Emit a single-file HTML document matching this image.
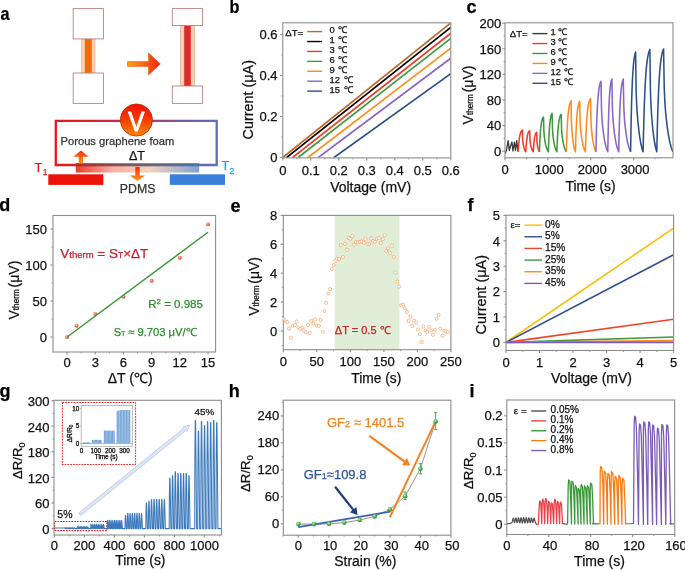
<!DOCTYPE html><html><head><meta charset="utf-8"><style>html,body{margin:0;padding:0;background:#fff;}svg{display:block;will-change:transform;}</style></head><body>
<svg width="685" height="570" viewBox="0 0 685 570" font-family='"Liberation Sans", sans-serif'>
<rect width="685" height="570" fill="#fff"/>
<defs>
<linearGradient id="arrG" x1="0" y1="0" x2="1" y2="0"><stop offset="0" stop-color="#ffa21a"/><stop offset="1" stop-color="#f0280a"/></linearGradient>
<linearGradient id="vG" x1="0" y1="0" x2="0" y2="1"><stop offset="0" stop-color="#f50f00"/><stop offset="0.5" stop-color="#f73c00"/><stop offset="1" stop-color="#ff8a00"/></linearGradient>
<linearGradient id="wireG" x1="0" y1="0" x2="1" y2="0"><stop offset="0" stop-color="#e81818"/><stop offset="0.4" stop-color="#c82840"/><stop offset="0.62" stop-color="#9a4878"/><stop offset="0.8" stop-color="#7a5a9e"/><stop offset="1" stop-color="#5a70bc"/></linearGradient>
<linearGradient id="barG" x1="0" y1="0" x2="1" y2="0"><stop offset="0" stop-color="#f03a2a"/><stop offset="0.3" stop-color="#f8b0a0"/><stop offset="0.6" stop-color="#f4d2c0"/><stop offset="1" stop-color="#7fa2d0"/></linearGradient>
<linearGradient id="barTop" x1="0" y1="0" x2="1" y2="0"><stop offset="0" stop-color="#9a2a2a"/><stop offset="0.5" stop-color="#5a4a5a"/><stop offset="1" stop-color="#4a6aa0"/></linearGradient>
<linearGradient id="upG" x1="0" y1="1" x2="0" y2="0"><stop offset="0" stop-color="#ff9a1a"/><stop offset="1" stop-color="#f02a0a"/></linearGradient>
<linearGradient id="dnG" x1="0" y1="0" x2="0" y2="1"><stop offset="0" stop-color="#f02a0a"/><stop offset="1" stop-color="#ff9a1a"/></linearGradient>
<radialGradient id="dotR" cx="0.4" cy="0.35" r="0.7"><stop offset="0" stop-color="#ffd0c0"/><stop offset="0.5" stop-color="#f86a50"/><stop offset="1" stop-color="#e83a28"/></radialGradient>
<radialGradient id="dotG" cx="0.4" cy="0.35" r="0.7"><stop offset="0" stop-color="#c8f0c0"/><stop offset="0.5" stop-color="#4cb04c"/><stop offset="1" stop-color="#2a8a2a"/></radialGradient>
</defs>
<text transform="translate(0.5,20.3) scale(0.9,1)" font-size="18" font-weight="bold" fill="#000" stroke="#000" stroke-width="0.25">a</text>
<text transform="translate(229.5,12.899999999999999) scale(0.9,1)" font-size="18" font-weight="bold" fill="#000" stroke="#000" stroke-width="0.25">b</text>
<text transform="translate(466.5,13.2) scale(1,1)" font-size="18" font-weight="bold" fill="#000" stroke="#000" stroke-width="0.25">c</text>
<text transform="translate(-0.8,211.1) scale(1,1)" font-size="18" font-weight="bold" fill="#000" stroke="#000" stroke-width="0.25">d</text>
<text transform="translate(230.5,211.89999999999998) scale(1,1)" font-size="18" font-weight="bold" fill="#000" stroke="#000" stroke-width="0.25">e</text>
<text transform="translate(467.5,211.1) scale(1,1)" font-size="18" font-weight="bold" fill="#000" stroke="#000" stroke-width="0.25">f</text>
<text transform="translate(-0.6,396.9) scale(1,1)" font-size="18" font-weight="bold" fill="#000" stroke="#000" stroke-width="0.25">g</text>
<text transform="translate(228.8,396.9) scale(1,1)" font-size="18" font-weight="bold" fill="#000" stroke="#000" stroke-width="0.25">h</text>
<text transform="translate(469.5,396.9) scale(1,1)" font-size="18" font-weight="bold" fill="#000" stroke="#000" stroke-width="0.25">i</text>
<rect x="81.5" y="38.9" width="13.5" height="34.1" fill="#fcd2b0" stroke="#d9a090" stroke-width="0.6"/>
<rect x="84.8" y="38.9" width="7.0" height="34.1" fill="#f06a0a"/>
<rect x="73.2" y="8.6" width="30.200000000000003" height="30.299999999999997" fill="#fff" stroke="#b88080" stroke-width="0.9"/>
<rect x="73.2" y="73.0" width="30.200000000000003" height="30.400000000000006" fill="#fff" stroke="#b88080" stroke-width="0.9"/>
<rect x="180.5" y="25.5" width="14.0" height="60.5" fill="#fcd2b0" stroke="#d9a090" stroke-width="0.6"/>
<rect x="184.2" y="25.5" width="6.600000000000023" height="60.5" fill="#e02a2a"/>
<rect x="172.3" y="8.6" width="30.299999999999983" height="16.9" fill="#fff" stroke="#b88080" stroke-width="0.9"/>
<rect x="172.3" y="86.0" width="30.299999999999983" height="17.400000000000006" fill="#fff" stroke="#b88080" stroke-width="0.9"/>
<path d="M127.5,61.6 L148.5,61.6 L148.5,52.8 L160.4,63.9 L148.5,75 L148.5,66.4 L127.5,66.4 Z" fill="url(#arrG)" stroke="#e8500a" stroke-width="0.5"/>
<path d="M76,165 L55.8,165 L55.8,120.8 L216.7,120.8 L216.7,165 L199,165" fill="none" stroke="url(#wireG)" stroke-width="2.3"/>
<rect x="75.8" y="163.3" width="123.4" height="9.2" fill="url(#barG)"/>
<rect x="75.8" y="163.3" width="123.4" height="3" fill="url(#barTop)" opacity="0.85"/>
<rect x="48.3" y="174.3" width="55" height="10.6" fill="#ec1208"/>
<rect x="169.8" y="174.3" width="55.2" height="10.6" fill="#3a7fd8"/>
<path d="M78.7,163.3 L78.7,156.7 L73.3,156.7 L81,150.4 L88.7,156.7 L83.1,156.7 L83.1,163.3 Z" fill="url(#upG)"/>
<path d="M135.3,167 L139.7,167 L139.7,175.5 L145,175.5 L137.5,181 L130,175.5 L135.3,175.5 Z" fill="url(#dnG)"/>
<circle cx="136.4" cy="120" r="16.1" fill="url(#vG)" stroke="#a83020" stroke-width="0.8"/>
<text transform="translate(136.3,130.9) scale(0.88,1)" font-size="27.5" text-anchor="middle" fill="#fff" stroke="#fff" stroke-width="1.0">V</text>
<text x="60.5" y="145.3" font-size="11.2" text-anchor="start" fill="#333" font-weight="normal"  stroke="#333" stroke-width="0.25">Porous graphene foam</text>
<text x="137" y="159.8" font-size="12.5" text-anchor="middle" fill="#111" font-weight="normal"  stroke="#111" stroke-width="0.25">ΔT</text>
<text x="137.6" y="192.7" font-size="12.3" text-anchor="middle" fill="#333" font-weight="normal"  stroke="#333" stroke-width="0.25">PDMS</text>
<text x="34.6" y="171.6" font-size="12.8" text-anchor="start" fill="#f01a1a" font-weight="normal"  stroke="#f01a1a" stroke-width="0.25">T</text>
<text x="42.8" y="174.5" font-size="8.5" text-anchor="start" fill="#f01a1a" font-weight="normal"  stroke="#f01a1a" stroke-width="0.25">1</text>
<text x="221.5" y="170.3" font-size="12.8" text-anchor="start" fill="#1aa8e8" font-weight="normal"  stroke="#1aa8e8" stroke-width="0.25">T</text>
<text x="229.5" y="173.5" font-size="8.5" text-anchor="start" fill="#1aa8e8" font-weight="normal"  stroke="#1aa8e8" stroke-width="0.25">2</text>
<clipPath id="cb"><rect x="282.8" y="22.8" width="168.0" height="135.1"/></clipPath>
<g clip-path="url(#cb)">
<line x1="282.8" y1="157.5" x2="450.8" y2="22.81" stroke="#bc6428" stroke-width="1.65" />
<line x1="286.72" y1="157.5" x2="450.8" y2="27.32" stroke="#000000" stroke-width="1.65" />
<line x1="292.6" y1="157.5" x2="450.8" y2="33.27" stroke="#f03c28" stroke-width="1.65" />
<line x1="298.2" y1="157.5" x2="450.8" y2="38.4" stroke="#3c9a3c" stroke-width="1.65" />
<line x1="308" y1="157.5" x2="450.8" y2="48.03" stroke="#ff8c1a" stroke-width="1.65" />
<line x1="318.36" y1="157.5" x2="450.8" y2="58.28" stroke="#8a64c8" stroke-width="1.65" />
<line x1="334.04" y1="157.5" x2="450.8" y2="73.66" stroke="#2a4f8c" stroke-width="1.65" />
</g>
<rect x="282.8" y="22.8" width="168" height="135.1" fill="none" stroke="#8c8c8c" stroke-width="1.1"/>
<line x1="282.8" y1="157.9" x2="282.8" y2="160.5" stroke="#8c8c8c" stroke-width="1.1" />
<line x1="310.8" y1="157.9" x2="310.8" y2="160.5" stroke="#8c8c8c" stroke-width="1.1" />
<line x1="338.8" y1="157.9" x2="338.8" y2="160.5" stroke="#8c8c8c" stroke-width="1.1" />
<line x1="366.8" y1="157.9" x2="366.8" y2="160.5" stroke="#8c8c8c" stroke-width="1.1" />
<line x1="394.8" y1="157.9" x2="394.8" y2="160.5" stroke="#8c8c8c" stroke-width="1.1" />
<line x1="422.8" y1="157.9" x2="422.8" y2="160.5" stroke="#8c8c8c" stroke-width="1.1" />
<line x1="450.8" y1="157.9" x2="450.8" y2="160.5" stroke="#8c8c8c" stroke-width="1.1" />
<line x1="296.8" y1="157.9" x2="296.8" y2="159.4" stroke="#8c8c8c" stroke-width="0.9" />
<line x1="324.8" y1="157.9" x2="324.8" y2="159.4" stroke="#8c8c8c" stroke-width="0.9" />
<line x1="352.8" y1="157.9" x2="352.8" y2="159.4" stroke="#8c8c8c" stroke-width="0.9" />
<line x1="380.8" y1="157.9" x2="380.8" y2="159.4" stroke="#8c8c8c" stroke-width="0.9" />
<line x1="408.8" y1="157.9" x2="408.8" y2="159.4" stroke="#8c8c8c" stroke-width="0.9" />
<line x1="436.8" y1="157.9" x2="436.8" y2="159.4" stroke="#8c8c8c" stroke-width="0.9" />
<line x1="280.2" y1="157.5" x2="282.8" y2="157.5" stroke="#8c8c8c" stroke-width="1.1" />
<line x1="280.2" y1="116.5" x2="282.8" y2="116.5" stroke="#8c8c8c" stroke-width="1.1" />
<line x1="280.2" y1="75.5" x2="282.8" y2="75.5" stroke="#8c8c8c" stroke-width="1.1" />
<line x1="280.2" y1="34.5" x2="282.8" y2="34.5" stroke="#8c8c8c" stroke-width="1.1" />
<line x1="281.3" y1="137" x2="282.8" y2="137" stroke="#8c8c8c" stroke-width="0.9" />
<line x1="281.3" y1="96" x2="282.8" y2="96" stroke="#8c8c8c" stroke-width="0.9" />
<line x1="281.3" y1="55" x2="282.8" y2="55" stroke="#8c8c8c" stroke-width="0.9" />
<text x="282.8" y="175.4" font-size="13" text-anchor="middle" fill="#111" font-weight="normal"  stroke="#111" stroke-width="0.25">0</text>
<text x="310.8" y="175.4" font-size="13" text-anchor="middle" fill="#111" font-weight="normal"  stroke="#111" stroke-width="0.25">0.1</text>
<text x="338.8" y="175.4" font-size="13" text-anchor="middle" fill="#111" font-weight="normal"  stroke="#111" stroke-width="0.25">0.2</text>
<text x="366.8" y="175.4" font-size="13" text-anchor="middle" fill="#111" font-weight="normal"  stroke="#111" stroke-width="0.25">0.3</text>
<text x="394.8" y="175.4" font-size="13" text-anchor="middle" fill="#111" font-weight="normal"  stroke="#111" stroke-width="0.25">0.4</text>
<text x="422.8" y="175.4" font-size="13" text-anchor="middle" fill="#111" font-weight="normal"  stroke="#111" stroke-width="0.25">0.5</text>
<text x="450.8" y="175.4" font-size="13" text-anchor="middle" fill="#111" font-weight="normal"  stroke="#111" stroke-width="0.25">0.6</text>
<text x="277.6" y="162.2" font-size="13" text-anchor="end" fill="#111" font-weight="normal"  stroke="#111" stroke-width="0.25">0</text>
<text x="277.6" y="121.2" font-size="13" text-anchor="end" fill="#111" font-weight="normal"  stroke="#111" stroke-width="0.25">0.2</text>
<text x="277.6" y="80.2" font-size="13" text-anchor="end" fill="#111" font-weight="normal"  stroke="#111" stroke-width="0.25">0.4</text>
<text x="277.6" y="39.2" font-size="13" text-anchor="end" fill="#111" font-weight="normal"  stroke="#111" stroke-width="0.25">0.6</text>
<text x="370.6" y="192.2" font-size="14" text-anchor="middle" fill="#111" font-weight="normal"  stroke="#111" stroke-width="0.25">Voltage (mV)</text>
<text x="0" y="0" font-size="14.4" text-anchor="middle" fill="#111" transform="translate(253.3,99.75) rotate(-90)" dy="0" stroke="#111" stroke-width="0.25">Current (μA)</text>
<text x="285.3" y="36" font-size="9.6" text-anchor="start" fill="#111" font-weight="normal"  stroke="#111" stroke-width="0.25">ΔT=</text>
<line x1="307.2" y1="31.6" x2="322.1" y2="31.6" stroke="#bc6428" stroke-width="1.4" />
<text x="329.6" y="33.1" font-size="9.4" text-anchor="start" fill="#111" font-weight="normal"  stroke="#111" stroke-width="0.25">0 <tspan dx="1">℃</tspan></text>
<line x1="307.2" y1="41.52" x2="322.1" y2="41.52" stroke="#000000" stroke-width="1.4" />
<text x="329.6" y="43.02" font-size="9.4" text-anchor="start" fill="#111" font-weight="normal"  stroke="#111" stroke-width="0.25">1 <tspan dx="1">℃</tspan></text>
<line x1="307.2" y1="51.44" x2="322.1" y2="51.44" stroke="#f03c28" stroke-width="1.4" />
<text x="329.6" y="52.94" font-size="9.4" text-anchor="start" fill="#111" font-weight="normal"  stroke="#111" stroke-width="0.25">3 <tspan dx="1">℃</tspan></text>
<line x1="307.2" y1="61.36" x2="322.1" y2="61.36" stroke="#3c9a3c" stroke-width="1.4" />
<text x="329.6" y="62.86" font-size="9.4" text-anchor="start" fill="#111" font-weight="normal"  stroke="#111" stroke-width="0.25">6 <tspan dx="1">℃</tspan></text>
<line x1="307.2" y1="71.28" x2="322.1" y2="71.28" stroke="#ff8c1a" stroke-width="1.4" />
<text x="329.6" y="72.78" font-size="9.4" text-anchor="start" fill="#111" font-weight="normal"  stroke="#111" stroke-width="0.25">9 <tspan dx="1">℃</tspan></text>
<line x1="307.2" y1="81.2" x2="322.1" y2="81.2" stroke="#8a64c8" stroke-width="1.4" />
<text x="329.6" y="82.7" font-size="9.4" text-anchor="start" fill="#111" font-weight="normal"  stroke="#111" stroke-width="0.25">12 <tspan dx="1">℃</tspan></text>
<line x1="307.2" y1="91.12" x2="322.1" y2="91.12" stroke="#2a4f8c" stroke-width="1.4" />
<text x="329.6" y="92.62" font-size="9.4" text-anchor="start" fill="#111" font-weight="normal"  stroke="#111" stroke-width="0.25">15 <tspan dx="1">℃</tspan></text>
<clipPath id="cc"><rect x="505.0" y="22.8" width="168.0" height="135.0"/></clipPath>
<g clip-path="url(#cc)">
<path d="M505.2,153.5 L506.5,150 L508.1,140.6 L509.3,150.5 L510.3,147 L511.9,142 L513,151 L514.4,142.2 L515.5,150.5 L516.7,140.6 L518,151.6" stroke="#3a3a3a" stroke-width="1.3" fill="none" stroke-linejoin="round" />
<path d="M518.2,151.8 L518.5,147.16 L518.8,143.46 L519.1,140.52 L519.4,138.18 L519.7,136.32 L520,134.84 L520.3,133.66 L520.6,132.72 L520.9,131.98 L521.2,131.38 L521.5,130.91 L521.8,130.54 L522.1,130.24 L522.4,130 L522.64,138.53 L522.89,141.49 L523.13,143.31 L523.37,144.76 L523.61,145.99 L523.86,147.06 L524.1,147.99 L524.34,148.79 L524.59,149.49 L524.83,150.09 L525.07,150.61 L525.31,151.07 L525.56,151.46 L525.8,151.8 L526.08,147.31 L526.36,143.73 L526.64,140.88 L526.91,138.62 L527.19,136.82 L527.47,135.38 L527.75,134.24 L528.03,133.34 L528.31,132.61 L528.59,132.04 L528.86,131.58 L529.14,131.22 L529.42,130.93 L529.7,130.7 L529.96,138.96 L530.21,141.82 L530.47,143.58 L530.73,144.98 L530.99,146.18 L531.24,147.22 L531.5,148.11 L531.76,148.89 L532.01,149.56 L532.27,150.15 L532.53,150.65 L532.79,151.09 L533.04,151.47 L533.3,151.8 L533.54,147.65 L533.79,144.34 L534.03,141.71 L534.27,139.62 L534.51,137.95 L534.76,136.63 L535,135.58 L535.24,134.74 L535.49,134.07 L535.73,133.54 L535.97,133.12 L536.21,132.78 L536.46,132.51 L536.7,132.3 L536.89,139.93 L537.09,142.58 L537.28,144.2 L537.47,145.5 L537.66,146.61 L537.86,147.56 L538.05,148.39 L538.24,149.11 L538.44,149.73 L538.63,150.27 L538.82,150.74 L539.01,151.14 L539.21,151.5 L539.4,151.8" stroke="#f03c28" stroke-width="1.55" fill="none" stroke-linejoin="round" />
<path d="M539.4,151.8 L539.69,144.39 L539.99,138.49 L540.28,133.8 L540.57,130.06 L540.86,127.09 L541.16,124.73 L541.45,122.85 L541.74,121.35 L542.04,120.16 L542.33,119.21 L542.62,118.46 L542.91,117.86 L543.21,117.38 L543.5,117 L543.85,130.62 L544.2,135.34 L544.55,138.24 L544.9,140.56 L545.25,142.53 L545.6,144.24 L545.95,145.72 L546.3,147 L546.65,148.11 L547,149.07 L547.35,149.91 L547.7,150.63 L548.05,151.26 L548.4,151.8 L548.66,143.6 L548.93,137.07 L549.19,131.88 L549.46,127.75 L549.72,124.46 L549.99,121.85 L550.25,119.77 L550.51,118.11 L550.78,116.79 L551.04,115.75 L551.31,114.91 L551.57,114.25 L551.84,113.72 L552.1,113.3 L552.44,128.37 L552.79,133.59 L553.13,136.8 L553.47,139.36 L553.81,141.55 L554.16,143.43 L554.5,145.07 L554.84,146.49 L555.19,147.72 L555.53,148.78 L555.87,149.7 L556.21,150.5 L556.56,151.2 L556.9,151.8 L557.21,143.79 L557.51,137.42 L557.82,132.35 L558.13,128.31 L558.44,125.1 L558.74,122.55 L559.05,120.52 L559.36,118.9 L559.66,117.61 L559.97,116.59 L560.28,115.77 L560.59,115.13 L560.89,114.61 L561.2,114.2 L561.56,128.92 L561.93,134.01 L562.29,137.15 L562.66,139.65 L563.02,141.79 L563.39,143.63 L563.75,145.23 L564.11,146.61 L564.48,147.81 L564.84,148.85 L565.21,149.75 L565.57,150.53 L565.94,151.21 L566.3,151.8" stroke="#3c9a3c" stroke-width="1.55" fill="none" stroke-linejoin="round" />
<path d="M566.3,151.8 L566.64,140.94 L566.99,132.29 L567.33,125.41 L567.67,119.94 L568.01,115.59 L568.36,112.12 L568.7,109.37 L569.04,107.17 L569.39,105.43 L569.73,104.04 L570.07,102.94 L570.41,102.06 L570.76,101.36 L571.1,100.8 L571.41,120.76 L571.71,127.68 L572.02,131.93 L572.33,135.32 L572.64,138.22 L572.94,140.72 L573.25,142.88 L573.56,144.76 L573.86,146.39 L574.17,147.8 L574.48,149.02 L574.79,150.08 L575.09,151 L575.4,151.8 L575.71,141.04 L576.01,132.48 L576.32,125.67 L576.63,120.25 L576.94,115.94 L577.24,112.51 L577.55,109.78 L577.86,107.61 L578.16,105.88 L578.47,104.51 L578.78,103.41 L579.09,102.54 L579.39,101.85 L579.7,101.3 L580.11,121.06 L580.51,127.91 L580.92,132.12 L581.33,135.49 L581.74,138.35 L582.14,140.83 L582.55,142.97 L582.96,144.83 L583.36,146.44 L583.77,147.84 L584.18,149.05 L584.59,150.1 L584.99,151.01 L585.4,151.8 L585.76,140.45 L586.13,131.41 L586.49,124.22 L586.86,118.51 L587.22,113.96 L587.59,110.33 L587.95,107.45 L588.31,105.16 L588.68,103.34 L589.04,101.89 L589.41,100.73 L589.77,99.81 L590.14,99.08 L590.5,98.5 L590.89,119.36 L591.27,126.59 L591.66,131.03 L592.04,134.58 L592.43,137.61 L592.81,140.22 L593.2,142.48 L593.59,144.44 L593.97,146.15 L594.36,147.62 L594.74,148.9 L595.13,150.01 L595.51,150.97 L595.9,151.8" stroke="#ff8c1a" stroke-width="1.55" fill="none" stroke-linejoin="round" />
<path d="M595.9,151.8 L596.26,136.78 L596.63,124.83 L596.99,115.33 L597.36,107.76 L597.72,101.74 L598.09,96.95 L598.45,93.14 L598.81,90.11 L599.18,87.7 L599.54,85.78 L599.91,84.25 L600.27,83.04 L600.64,82.07 L601,81.3 L601.49,108.89 L601.97,118.45 L602.46,124.33 L602.94,129.02 L603.43,133.02 L603.91,136.48 L604.4,139.48 L604.89,142.07 L605.37,144.32 L605.86,146.27 L606.34,147.96 L606.83,149.43 L607.31,150.7 L607.8,151.8 L608.09,136.29 L608.39,123.95 L608.68,114.14 L608.97,106.32 L609.26,100.11 L609.56,95.16 L609.85,91.23 L610.14,88.1 L610.44,85.61 L610.73,83.62 L611.02,82.05 L611.31,80.79 L611.61,79.79 L611.9,79 L612.39,107.49 L612.87,117.36 L613.36,123.44 L613.84,128.28 L614.33,132.41 L614.81,135.98 L615.3,139.07 L615.79,141.75 L616.27,144.08 L616.76,146.09 L617.24,147.84 L617.73,149.35 L618.21,150.66 L618.7,151.8 L619.03,136.29 L619.36,123.95 L619.69,114.14 L620.01,106.32 L620.34,100.11 L620.67,95.16 L621,91.23 L621.33,88.1 L621.66,85.61 L621.99,83.62 L622.31,82.05 L622.64,80.79 L622.97,79.79 L623.3,79 L623.82,107.49 L624.34,117.36 L624.86,123.44 L625.39,128.28 L625.91,132.41 L626.43,135.98 L626.95,139.07 L627.47,141.75 L627.99,144.08 L628.51,146.09 L629.04,147.84 L629.56,149.35 L630.08,150.66 L630.6,151.8" stroke="#8a64c8" stroke-width="1.55" fill="none" stroke-linejoin="round" />
<path d="M630.6,151.8 L630.96,130.56 L631.31,113.66 L631.67,100.22 L632.03,89.52 L632.39,81.01 L632.74,74.24 L633.1,68.85 L633.46,64.56 L633.81,61.15 L634.17,58.43 L634.53,56.27 L634.89,54.56 L635.24,53.19 L635.6,52.1 L636.14,91.12 L636.67,104.64 L637.21,112.95 L637.74,119.59 L638.28,125.25 L638.81,130.14 L639.35,134.37 L639.89,138.04 L640.42,141.22 L640.96,143.98 L641.49,146.37 L642.03,148.45 L642.56,150.24 L643.1,151.8 L643.59,129.99 L644.07,112.63 L644.56,98.82 L645.04,87.83 L645.53,79.09 L646.01,72.14 L646.5,66.6 L646.99,62.2 L647.47,58.69 L647.96,55.91 L648.44,53.69 L648.93,51.92 L649.41,50.52 L649.9,49.4 L650.39,89.48 L650.89,103.36 L651.38,111.9 L651.87,118.72 L652.36,124.53 L652.86,129.55 L653.35,133.9 L653.84,137.67 L654.34,140.94 L654.83,143.77 L655.32,146.23 L655.81,148.35 L656.31,150.2 L656.8,151.8 L657.29,129.9 L657.77,112.48 L658.26,98.62 L658.74,87.58 L659.23,78.81 L659.71,71.82 L660.2,66.27 L660.69,61.85 L661.17,58.33 L661.66,55.53 L662.14,53.3 L662.63,51.53 L663.11,50.12 L663.6,49 L664.26,89.23 L664.93,103.17 L665.59,111.75 L666.26,118.59 L666.92,124.42 L667.59,129.46 L668.25,133.83 L668.91,137.61 L669.58,140.89 L670.24,143.74 L670.91,146.2 L671.57,148.34 L672.24,150.19 L672.9,151.8" stroke="#2a4f8c" stroke-width="1.55" fill="none" stroke-linejoin="round" />
</g>
<rect x="505" y="22.8" width="168" height="135" fill="none" stroke="#8c8c8c" stroke-width="1.1"/>
<line x1="505" y1="157.8" x2="505" y2="160.4" stroke="#8c8c8c" stroke-width="1.1" />
<line x1="547.9" y1="157.8" x2="547.9" y2="160.4" stroke="#8c8c8c" stroke-width="1.1" />
<line x1="590.8" y1="157.8" x2="590.8" y2="160.4" stroke="#8c8c8c" stroke-width="1.1" />
<line x1="633.7" y1="157.8" x2="633.7" y2="160.4" stroke="#8c8c8c" stroke-width="1.1" />
<line x1="526.45" y1="157.8" x2="526.45" y2="159.3" stroke="#8c8c8c" stroke-width="0.9" />
<line x1="569.35" y1="157.8" x2="569.35" y2="159.3" stroke="#8c8c8c" stroke-width="0.9" />
<line x1="612.25" y1="157.8" x2="612.25" y2="159.3" stroke="#8c8c8c" stroke-width="0.9" />
<line x1="655.15" y1="157.8" x2="655.15" y2="159.3" stroke="#8c8c8c" stroke-width="0.9" />
<line x1="502.4" y1="151.2" x2="505" y2="151.2" stroke="#8c8c8c" stroke-width="1.1" />
<line x1="502.4" y1="125.6" x2="505" y2="125.6" stroke="#8c8c8c" stroke-width="1.1" />
<line x1="502.4" y1="100" x2="505" y2="100" stroke="#8c8c8c" stroke-width="1.1" />
<line x1="502.4" y1="74.4" x2="505" y2="74.4" stroke="#8c8c8c" stroke-width="1.1" />
<line x1="502.4" y1="48.8" x2="505" y2="48.8" stroke="#8c8c8c" stroke-width="1.1" />
<line x1="502.4" y1="23.2" x2="505" y2="23.2" stroke="#8c8c8c" stroke-width="1.1" />
<line x1="503.5" y1="138.4" x2="505" y2="138.4" stroke="#8c8c8c" stroke-width="0.9" />
<line x1="503.5" y1="112.8" x2="505" y2="112.8" stroke="#8c8c8c" stroke-width="0.9" />
<line x1="503.5" y1="87.2" x2="505" y2="87.2" stroke="#8c8c8c" stroke-width="0.9" />
<line x1="503.5" y1="61.6" x2="505" y2="61.6" stroke="#8c8c8c" stroke-width="0.9" />
<line x1="503.5" y1="36" x2="505" y2="36" stroke="#8c8c8c" stroke-width="0.9" />
<text x="505" y="173.5" font-size="13" text-anchor="middle" fill="#111" font-weight="normal"  stroke="#111" stroke-width="0.25">0</text>
<text x="549.3" y="173.5" font-size="13" text-anchor="middle" fill="#111" font-weight="normal"  stroke="#111" stroke-width="0.25">1000</text>
<text x="592.2" y="173.5" font-size="13" text-anchor="middle" fill="#111" font-weight="normal"  stroke="#111" stroke-width="0.25">2000</text>
<text x="635.1" y="173.5" font-size="13" text-anchor="middle" fill="#111" font-weight="normal"  stroke="#111" stroke-width="0.25">3000</text>
<text x="501.3" y="155.9" font-size="13" text-anchor="end" fill="#111" font-weight="normal"  stroke="#111" stroke-width="0.25">0</text>
<text x="501.3" y="130.3" font-size="13" text-anchor="end" fill="#111" font-weight="normal"  stroke="#111" stroke-width="0.25">40</text>
<text x="501.3" y="104.7" font-size="13" text-anchor="end" fill="#111" font-weight="normal"  stroke="#111" stroke-width="0.25">80</text>
<text x="501.3" y="79.1" font-size="13" text-anchor="end" fill="#111" font-weight="normal"  stroke="#111" stroke-width="0.25">120</text>
<text x="501.3" y="53.5" font-size="13" text-anchor="end" fill="#111" font-weight="normal"  stroke="#111" stroke-width="0.25">160</text>
<text x="501.3" y="27.9" font-size="13" text-anchor="end" fill="#111" font-weight="normal"  stroke="#111" stroke-width="0.25">200</text>
<text x="590.6" y="190.8" font-size="13.8" text-anchor="middle" fill="#111" font-weight="normal"  stroke="#111" stroke-width="0.25">Time (s)</text>
<text x="0" y="0" font-size="14" text-anchor="middle" fill="#111" transform="translate(473.2,95) rotate(-90)" stroke="#111" stroke-width="0.25">V<tspan font-size="8.2">therm</tspan><tspan dx="1.8">(μV)</tspan></text>
<text x="509.8" y="37.1" font-size="9.6" text-anchor="start" fill="#111" font-weight="normal"  stroke="#111" stroke-width="0.25">ΔT=</text>
<line x1="532.4" y1="33.6" x2="547.4" y2="33.6" stroke="#3a3a3a" stroke-width="1.4" />
<text x="550.6" y="35.2" font-size="9.3" text-anchor="start" fill="#111" font-weight="normal"  stroke="#111" stroke-width="0.25">1 ℃</text>
<line x1="532.4" y1="43.54" x2="547.4" y2="43.54" stroke="#f03c28" stroke-width="1.4" />
<text x="550.6" y="45.14" font-size="9.3" text-anchor="start" fill="#111" font-weight="normal"  stroke="#111" stroke-width="0.25">3 ℃</text>
<line x1="532.4" y1="53.48" x2="547.4" y2="53.48" stroke="#3c9a3c" stroke-width="1.4" />
<text x="550.6" y="55.08" font-size="9.3" text-anchor="start" fill="#111" font-weight="normal"  stroke="#111" stroke-width="0.25">6 ℃</text>
<line x1="532.4" y1="63.42" x2="547.4" y2="63.42" stroke="#ff8c1a" stroke-width="1.4" />
<text x="550.6" y="65.02" font-size="9.3" text-anchor="start" fill="#111" font-weight="normal"  stroke="#111" stroke-width="0.25">9 ℃</text>
<line x1="532.4" y1="73.36" x2="547.4" y2="73.36" stroke="#8a64c8" stroke-width="1.4" />
<text x="550.6" y="74.96" font-size="9.3" text-anchor="start" fill="#111" font-weight="normal"  stroke="#111" stroke-width="0.25">12 ℃</text>
<line x1="532.4" y1="83.3" x2="547.4" y2="83.3" stroke="#2a4f8c" stroke-width="1.4" />
<text x="550.6" y="84.9" font-size="9.3" text-anchor="start" fill="#111" font-weight="normal"  stroke="#111" stroke-width="0.25">15 ℃</text>
<rect x="53" y="215.5" width="162.6" height="136.5" fill="none" stroke="#8c8c8c" stroke-width="1.1"/>
<line x1="67.1" y1="352" x2="67.1" y2="354.6" stroke="#8c8c8c" stroke-width="1.1" />
<line x1="95.28" y1="352" x2="95.28" y2="354.6" stroke="#8c8c8c" stroke-width="1.1" />
<line x1="123.46" y1="352" x2="123.46" y2="354.6" stroke="#8c8c8c" stroke-width="1.1" />
<line x1="151.64" y1="352" x2="151.64" y2="354.6" stroke="#8c8c8c" stroke-width="1.1" />
<line x1="179.82" y1="352" x2="179.82" y2="354.6" stroke="#8c8c8c" stroke-width="1.1" />
<line x1="208" y1="352" x2="208" y2="354.6" stroke="#8c8c8c" stroke-width="1.1" />
<line x1="81.19" y1="352" x2="81.19" y2="353.5" stroke="#8c8c8c" stroke-width="0.9" />
<line x1="109.37" y1="352" x2="109.37" y2="353.5" stroke="#8c8c8c" stroke-width="0.9" />
<line x1="137.55" y1="352" x2="137.55" y2="353.5" stroke="#8c8c8c" stroke-width="0.9" />
<line x1="165.73" y1="352" x2="165.73" y2="353.5" stroke="#8c8c8c" stroke-width="0.9" />
<line x1="193.91" y1="352" x2="193.91" y2="353.5" stroke="#8c8c8c" stroke-width="0.9" />
<line x1="50.4" y1="337" x2="53" y2="337" stroke="#8c8c8c" stroke-width="1.1" />
<line x1="50.4" y1="301" x2="53" y2="301" stroke="#8c8c8c" stroke-width="1.1" />
<line x1="50.4" y1="265" x2="53" y2="265" stroke="#8c8c8c" stroke-width="1.1" />
<line x1="50.4" y1="229" x2="53" y2="229" stroke="#8c8c8c" stroke-width="1.1" />
<line x1="51.5" y1="319" x2="53" y2="319" stroke="#8c8c8c" stroke-width="0.9" />
<line x1="51.5" y1="283" x2="53" y2="283" stroke="#8c8c8c" stroke-width="0.9" />
<line x1="51.5" y1="247" x2="53" y2="247" stroke="#8c8c8c" stroke-width="0.9" />
<circle cx="67.1" cy="337" r="2.0" fill="url(#dotR)"/>
<circle cx="76.49" cy="325.7" r="2.0" fill="url(#dotR)"/>
<circle cx="95.28" cy="314.1" r="2.0" fill="url(#dotR)"/>
<circle cx="123.46" cy="296.82" r="2.0" fill="url(#dotR)"/>
<circle cx="151.64" cy="280.84" r="2.0" fill="url(#dotR)"/>
<circle cx="179.82" cy="257.8" r="2.0" fill="url(#dotR)"/>
<circle cx="208" cy="224.32" r="2.0" fill="url(#dotR)"/>
<line x1="67.1" y1="337" x2="208" y2="232.24" stroke="#3a9a3a" stroke-width="1.5" />
<text x="67.1" y="367.2" font-size="13" text-anchor="middle" fill="#111" font-weight="normal"  stroke="#111" stroke-width="0.25">0</text>
<text x="95.28" y="367.2" font-size="13" text-anchor="middle" fill="#111" font-weight="normal"  stroke="#111" stroke-width="0.25">3</text>
<text x="123.46" y="367.2" font-size="13" text-anchor="middle" fill="#111" font-weight="normal"  stroke="#111" stroke-width="0.25">6</text>
<text x="151.64" y="367.2" font-size="13" text-anchor="middle" fill="#111" font-weight="normal"  stroke="#111" stroke-width="0.25">9</text>
<text x="179.82" y="367.2" font-size="13" text-anchor="middle" fill="#111" font-weight="normal"  stroke="#111" stroke-width="0.25">12</text>
<text x="208" y="367.2" font-size="13" text-anchor="middle" fill="#111" font-weight="normal"  stroke="#111" stroke-width="0.25">15</text>
<text x="47" y="341.7" font-size="13" text-anchor="end" fill="#111" font-weight="normal"  stroke="#111" stroke-width="0.25">0</text>
<text x="47" y="305.7" font-size="13" text-anchor="end" fill="#111" font-weight="normal"  stroke="#111" stroke-width="0.25">50</text>
<text x="47" y="269.7" font-size="13" text-anchor="end" fill="#111" font-weight="normal"  stroke="#111" stroke-width="0.25">100</text>
<text x="47" y="233.7" font-size="13" text-anchor="end" fill="#111" font-weight="normal"  stroke="#111" stroke-width="0.25">150</text>
<text x="130.2" y="382.8" font-size="14" text-anchor="middle" fill="#111" font-weight="normal"  stroke="#111" stroke-width="0.25">ΔT (℃)</text>
<text x="0" y="0" font-size="14" text-anchor="middle" fill="#111" transform="translate(19.4,290.1) rotate(-90)" stroke="#111" stroke-width="0.25">V<tspan font-size="8.2">therm</tspan><tspan dx="1.8">(μV)</tspan></text>
<text x="60.3" y="257.8" font-size="13.5" fill="#c81e2e" stroke="#c81e2e" stroke-width="0.25">V<tspan font-size="9.5">therm</tspan> = S<tspan font-size="8.5">T</tspan>×ΔT</text>
<text x="148.2" y="308.0" font-size="11.5" fill="#2a8f2a" stroke="#2a8f2a" stroke-width="0.25">R<tspan font-size="8" dy="-4.2">2</tspan><tspan dy="4.2"> = 0.985</tspan></text>
<text x="113.7" y="336.0" font-size="11.2" fill="#2a8f2a" stroke="#2a8f2a" stroke-width="0.25">S<tspan font-size="6.5">T</tspan> ≈ 9.703 μV/℃</text>
<rect x="334.7" y="215.4" width="64.69999999999999" height="134.29999999999998" fill="#e0eed8"/>
<rect x="283.3" y="215.4" width="167.6" height="134.3" fill="none" stroke="#8c8c8c" stroke-width="1.1"/>
<line x1="283.3" y1="349.7" x2="283.3" y2="352.3" stroke="#8c8c8c" stroke-width="1.1" />
<line x1="316.82" y1="349.7" x2="316.82" y2="352.3" stroke="#8c8c8c" stroke-width="1.1" />
<line x1="350.34" y1="349.7" x2="350.34" y2="352.3" stroke="#8c8c8c" stroke-width="1.1" />
<line x1="383.86" y1="349.7" x2="383.86" y2="352.3" stroke="#8c8c8c" stroke-width="1.1" />
<line x1="417.38" y1="349.7" x2="417.38" y2="352.3" stroke="#8c8c8c" stroke-width="1.1" />
<line x1="450.9" y1="349.7" x2="450.9" y2="352.3" stroke="#8c8c8c" stroke-width="1.1" />
<line x1="300.06" y1="349.7" x2="300.06" y2="351.2" stroke="#8c8c8c" stroke-width="0.9" />
<line x1="333.58" y1="349.7" x2="333.58" y2="351.2" stroke="#8c8c8c" stroke-width="0.9" />
<line x1="367.1" y1="349.7" x2="367.1" y2="351.2" stroke="#8c8c8c" stroke-width="0.9" />
<line x1="400.62" y1="349.7" x2="400.62" y2="351.2" stroke="#8c8c8c" stroke-width="0.9" />
<line x1="434.14" y1="349.7" x2="434.14" y2="351.2" stroke="#8c8c8c" stroke-width="0.9" />
<line x1="280.7" y1="331" x2="283.3" y2="331" stroke="#8c8c8c" stroke-width="1.1" />
<line x1="280.7" y1="302.1" x2="283.3" y2="302.1" stroke="#8c8c8c" stroke-width="1.1" />
<line x1="280.7" y1="273.2" x2="283.3" y2="273.2" stroke="#8c8c8c" stroke-width="1.1" />
<line x1="280.7" y1="244.3" x2="283.3" y2="244.3" stroke="#8c8c8c" stroke-width="1.1" />
<line x1="280.7" y1="215.4" x2="283.3" y2="215.4" stroke="#8c8c8c" stroke-width="1.1" />
<line x1="281.8" y1="345.45" x2="283.3" y2="345.45" stroke="#8c8c8c" stroke-width="0.9" />
<line x1="281.8" y1="316.55" x2="283.3" y2="316.55" stroke="#8c8c8c" stroke-width="0.9" />
<line x1="281.8" y1="287.65" x2="283.3" y2="287.65" stroke="#8c8c8c" stroke-width="0.9" />
<line x1="281.8" y1="258.75" x2="283.3" y2="258.75" stroke="#8c8c8c" stroke-width="0.9" />
<line x1="281.8" y1="229.85" x2="283.3" y2="229.85" stroke="#8c8c8c" stroke-width="0.9" />
<clipPath id="ce"><rect x="283.3" y="215.4" width="167.59999999999997" height="134.29999999999998"/></clipPath><g clip-path="url(#ce)">
<circle cx="283.5" cy="318.8" r="1.55" fill="#fff" stroke="#f7a56a" stroke-width="0.75"/>
<circle cx="286.1" cy="321.5" r="1.55" fill="#fff" stroke="#f7a56a" stroke-width="0.75"/>
<circle cx="287.4" cy="322.1" r="1.55" fill="#fff" stroke="#f7a56a" stroke-width="0.75"/>
<circle cx="289" cy="328.5" r="1.55" fill="#fff" stroke="#f7a56a" stroke-width="0.75"/>
<circle cx="290.9" cy="337.8" r="1.55" fill="#fff" stroke="#f7a56a" stroke-width="0.75"/>
<circle cx="292.7" cy="325.8" r="1.55" fill="#fff" stroke="#f7a56a" stroke-width="0.75"/>
<circle cx="294.9" cy="325" r="1.55" fill="#fff" stroke="#f7a56a" stroke-width="0.75"/>
<circle cx="296.6" cy="321.5" r="1.55" fill="#fff" stroke="#f7a56a" stroke-width="0.75"/>
<circle cx="298.4" cy="327.8" r="1.55" fill="#fff" stroke="#f7a56a" stroke-width="0.75"/>
<circle cx="300.1" cy="328.9" r="1.55" fill="#fff" stroke="#f7a56a" stroke-width="0.75"/>
<circle cx="302.3" cy="327.6" r="1.55" fill="#fff" stroke="#f7a56a" stroke-width="0.75"/>
<circle cx="303.8" cy="330.2" r="1.55" fill="#fff" stroke="#f7a56a" stroke-width="0.75"/>
<circle cx="305.8" cy="332.2" r="1.55" fill="#fff" stroke="#f7a56a" stroke-width="0.75"/>
<circle cx="308" cy="325" r="1.55" fill="#fff" stroke="#f7a56a" stroke-width="0.75"/>
<circle cx="309.8" cy="332.8" r="1.55" fill="#fff" stroke="#f7a56a" stroke-width="0.75"/>
<circle cx="311.5" cy="321" r="1.55" fill="#fff" stroke="#f7a56a" stroke-width="0.75"/>
<circle cx="313.3" cy="323.8" r="1.55" fill="#fff" stroke="#f7a56a" stroke-width="0.75"/>
<circle cx="315" cy="319.7" r="1.55" fill="#fff" stroke="#f7a56a" stroke-width="0.75"/>
<circle cx="316.8" cy="325.7" r="1.55" fill="#fff" stroke="#f7a56a" stroke-width="0.75"/>
<circle cx="319" cy="325.8" r="1.55" fill="#fff" stroke="#f7a56a" stroke-width="0.75"/>
<circle cx="320.7" cy="320" r="1.55" fill="#fff" stroke="#f7a56a" stroke-width="0.75"/>
<circle cx="322.7" cy="331.7" r="1.55" fill="#fff" stroke="#f7a56a" stroke-width="0.75"/>
<circle cx="324.5" cy="311" r="1.55" fill="#fff" stroke="#f7a56a" stroke-width="0.75"/>
<circle cx="326.2" cy="302.8" r="1.55" fill="#fff" stroke="#f7a56a" stroke-width="0.75"/>
<circle cx="328.2" cy="293.7" r="1.55" fill="#fff" stroke="#f7a56a" stroke-width="0.75"/>
<circle cx="330.1" cy="289.1" r="1.55" fill="#fff" stroke="#f7a56a" stroke-width="0.75"/>
<circle cx="331.8" cy="268.8" r="1.55" fill="#fff" stroke="#f7a56a" stroke-width="0.75"/>
<circle cx="333.8" cy="265.1" r="1.55" fill="#fff" stroke="#f7a56a" stroke-width="0.75"/>
<circle cx="335.5" cy="260.5" r="1.55" fill="#fff" stroke="#f7a56a" stroke-width="0.75"/>
<circle cx="337.1" cy="258.6" r="1.55" fill="#fff" stroke="#f7a56a" stroke-width="0.75"/>
<circle cx="339.1" cy="259" r="1.55" fill="#fff" stroke="#f7a56a" stroke-width="0.75"/>
<circle cx="343" cy="257" r="1.55" fill="#fff" stroke="#f7a56a" stroke-width="0.75"/>
<circle cx="340.8" cy="245" r="1.55" fill="#fff" stroke="#f7a56a" stroke-width="0.75"/>
<circle cx="345" cy="243.8" r="1.55" fill="#fff" stroke="#f7a56a" stroke-width="0.75"/>
<circle cx="347" cy="249.7" r="1.55" fill="#fff" stroke="#f7a56a" stroke-width="0.75"/>
<circle cx="348.7" cy="237.9" r="1.55" fill="#fff" stroke="#f7a56a" stroke-width="0.75"/>
<circle cx="350.4" cy="238.8" r="1.55" fill="#fff" stroke="#f7a56a" stroke-width="0.75"/>
<circle cx="352.2" cy="236.2" r="1.55" fill="#fff" stroke="#f7a56a" stroke-width="0.75"/>
<circle cx="354" cy="244.5" r="1.55" fill="#fff" stroke="#f7a56a" stroke-width="0.75"/>
<circle cx="355.8" cy="241.8" r="1.55" fill="#fff" stroke="#f7a56a" stroke-width="0.75"/>
<circle cx="358.2" cy="242.5" r="1.55" fill="#fff" stroke="#f7a56a" stroke-width="0.75"/>
<circle cx="360.1" cy="241.8" r="1.55" fill="#fff" stroke="#f7a56a" stroke-width="0.75"/>
<circle cx="361.8" cy="241.4" r="1.55" fill="#fff" stroke="#f7a56a" stroke-width="0.75"/>
<circle cx="363.8" cy="242.8" r="1.55" fill="#fff" stroke="#f7a56a" stroke-width="0.75"/>
<circle cx="365.4" cy="239.1" r="1.55" fill="#fff" stroke="#f7a56a" stroke-width="0.75"/>
<circle cx="367.4" cy="244.1" r="1.55" fill="#fff" stroke="#f7a56a" stroke-width="0.75"/>
<circle cx="369.3" cy="244.1" r="1.55" fill="#fff" stroke="#f7a56a" stroke-width="0.75"/>
<circle cx="371.1" cy="238.6" r="1.55" fill="#fff" stroke="#f7a56a" stroke-width="0.75"/>
<circle cx="372.9" cy="241" r="1.55" fill="#fff" stroke="#f7a56a" stroke-width="0.75"/>
<circle cx="375" cy="241.8" r="1.55" fill="#fff" stroke="#f7a56a" stroke-width="0.75"/>
<circle cx="376.8" cy="238.8" r="1.55" fill="#fff" stroke="#f7a56a" stroke-width="0.75"/>
<circle cx="378.9" cy="237.9" r="1.55" fill="#fff" stroke="#f7a56a" stroke-width="0.75"/>
<circle cx="380.8" cy="243" r="1.55" fill="#fff" stroke="#f7a56a" stroke-width="0.75"/>
<circle cx="382.8" cy="239.2" r="1.55" fill="#fff" stroke="#f7a56a" stroke-width="0.75"/>
<circle cx="384.5" cy="235.1" r="1.55" fill="#fff" stroke="#f7a56a" stroke-width="0.75"/>
<circle cx="386.1" cy="251" r="1.55" fill="#fff" stroke="#f7a56a" stroke-width="0.75"/>
<circle cx="388" cy="248.3" r="1.55" fill="#fff" stroke="#f7a56a" stroke-width="0.75"/>
<circle cx="390" cy="252.9" r="1.55" fill="#fff" stroke="#f7a56a" stroke-width="0.75"/>
<circle cx="392" cy="245.8" r="1.55" fill="#fff" stroke="#f7a56a" stroke-width="0.75"/>
<circle cx="393.7" cy="257" r="1.55" fill="#fff" stroke="#f7a56a" stroke-width="0.75"/>
<circle cx="395.4" cy="272.4" r="1.55" fill="#fff" stroke="#f7a56a" stroke-width="0.75"/>
<circle cx="397.4" cy="281.6" r="1.55" fill="#fff" stroke="#f7a56a" stroke-width="0.75"/>
<circle cx="399.2" cy="286.6" r="1.55" fill="#fff" stroke="#f7a56a" stroke-width="0.75"/>
<circle cx="401" cy="305.4" r="1.55" fill="#fff" stroke="#f7a56a" stroke-width="0.75"/>
<circle cx="403.2" cy="304.7" r="1.55" fill="#fff" stroke="#f7a56a" stroke-width="0.75"/>
<circle cx="404.9" cy="308.3" r="1.55" fill="#fff" stroke="#f7a56a" stroke-width="0.75"/>
<circle cx="406.8" cy="312" r="1.55" fill="#fff" stroke="#f7a56a" stroke-width="0.75"/>
<circle cx="410.4" cy="316.8" r="1.55" fill="#fff" stroke="#f7a56a" stroke-width="0.75"/>
<circle cx="408.5" cy="320.9" r="1.55" fill="#fff" stroke="#f7a56a" stroke-width="0.75"/>
<circle cx="414.1" cy="320.7" r="1.55" fill="#fff" stroke="#f7a56a" stroke-width="0.75"/>
<circle cx="416.2" cy="322.6" r="1.55" fill="#fff" stroke="#f7a56a" stroke-width="0.75"/>
<circle cx="412.2" cy="325.9" r="1.55" fill="#fff" stroke="#f7a56a" stroke-width="0.75"/>
<circle cx="418" cy="329.5" r="1.55" fill="#fff" stroke="#f7a56a" stroke-width="0.75"/>
<circle cx="419.9" cy="334.2" r="1.55" fill="#fff" stroke="#f7a56a" stroke-width="0.75"/>
<circle cx="421.8" cy="341.9" r="1.55" fill="#fff" stroke="#f7a56a" stroke-width="0.75"/>
<circle cx="423.4" cy="326.6" r="1.55" fill="#fff" stroke="#f7a56a" stroke-width="0.75"/>
<circle cx="425.7" cy="330.5" r="1.55" fill="#fff" stroke="#f7a56a" stroke-width="0.75"/>
<circle cx="427.3" cy="332" r="1.55" fill="#fff" stroke="#f7a56a" stroke-width="0.75"/>
<circle cx="429" cy="326.6" r="1.55" fill="#fff" stroke="#f7a56a" stroke-width="0.75"/>
<circle cx="431.2" cy="330.3" r="1.55" fill="#fff" stroke="#f7a56a" stroke-width="0.75"/>
<circle cx="432.8" cy="334.8" r="1.55" fill="#fff" stroke="#f7a56a" stroke-width="0.75"/>
<circle cx="435" cy="329.7" r="1.55" fill="#fff" stroke="#f7a56a" stroke-width="0.75"/>
<circle cx="436.7" cy="318.9" r="1.55" fill="#fff" stroke="#f7a56a" stroke-width="0.75"/>
<circle cx="438.6" cy="314.9" r="1.55" fill="#fff" stroke="#f7a56a" stroke-width="0.75"/>
<circle cx="440.3" cy="328.6" r="1.55" fill="#fff" stroke="#f7a56a" stroke-width="0.75"/>
<circle cx="442.3" cy="335.8" r="1.55" fill="#fff" stroke="#f7a56a" stroke-width="0.75"/>
<circle cx="444.2" cy="330.7" r="1.55" fill="#fff" stroke="#f7a56a" stroke-width="0.75"/>
<circle cx="446.1" cy="331.3" r="1.55" fill="#fff" stroke="#f7a56a" stroke-width="0.75"/>
<circle cx="447.8" cy="332" r="1.55" fill="#fff" stroke="#f7a56a" stroke-width="0.75"/>
</g>
<text x="283.3" y="366" font-size="13" text-anchor="middle" fill="#111" font-weight="normal"  stroke="#111" stroke-width="0.25">0</text>
<text x="316.82" y="366" font-size="13" text-anchor="middle" fill="#111" font-weight="normal"  stroke="#111" stroke-width="0.25">50</text>
<text x="350.34" y="366" font-size="13" text-anchor="middle" fill="#111" font-weight="normal"  stroke="#111" stroke-width="0.25">100</text>
<text x="383.86" y="366" font-size="13" text-anchor="middle" fill="#111" font-weight="normal"  stroke="#111" stroke-width="0.25">150</text>
<text x="417.38" y="366" font-size="13" text-anchor="middle" fill="#111" font-weight="normal"  stroke="#111" stroke-width="0.25">200</text>
<text x="450.9" y="366" font-size="13" text-anchor="middle" fill="#111" font-weight="normal"  stroke="#111" stroke-width="0.25">250</text>
<text x="277.3" y="335.7" font-size="13" text-anchor="end" fill="#111" font-weight="normal"  stroke="#111" stroke-width="0.25">0</text>
<text x="277.3" y="306.8" font-size="13" text-anchor="end" fill="#111" font-weight="normal"  stroke="#111" stroke-width="0.25">2</text>
<text x="277.3" y="277.9" font-size="13" text-anchor="end" fill="#111" font-weight="normal"  stroke="#111" stroke-width="0.25">4</text>
<text x="277.3" y="249" font-size="13" text-anchor="end" fill="#111" font-weight="normal"  stroke="#111" stroke-width="0.25">6</text>
<text x="277.3" y="220.1" font-size="13" text-anchor="end" fill="#111" font-weight="normal"  stroke="#111" stroke-width="0.25">8</text>
<text x="376.3" y="382.7" font-size="13.8" text-anchor="middle" fill="#111" font-weight="normal"  stroke="#111" stroke-width="0.25">Time (s)</text>
<text x="0" y="0" font-size="14" text-anchor="middle" fill="#111" transform="translate(259.4,286.4) rotate(-90)" stroke="#111" stroke-width="0.25">V<tspan font-size="8.2">therm</tspan><tspan dx="1.8">(μV)</tspan></text>
<text x="334.8" y="333.9" font-size="11" text-anchor="start" fill="#c8202a" font-weight="normal"  stroke="#c8202a" stroke-width="0.25">ΔT = 0.5 ℃</text>
<line x1="506" y1="342.4" x2="673.6" y2="228.1" stroke="#f7c000" stroke-width="1.6" />
<line x1="506" y1="342.4" x2="673.6" y2="254.77" stroke="#2f4f8f" stroke-width="1.6" />
<line x1="506" y1="342.4" x2="673.6" y2="319.29" stroke="#f0452a" stroke-width="1.6" />
<line x1="506" y1="342.4" x2="673.6" y2="337.07" stroke="#3c9a46" stroke-width="1.6" />
<line x1="506" y1="342.4" x2="673.6" y2="340.62" stroke="#ff8c1a" stroke-width="1.6" />
<line x1="506" y1="342.4" x2="673.6" y2="342.4" stroke="#7a5cc0" stroke-width="1.6" />
<rect x="506" y="215.2" width="167.6" height="135.3" fill="none" stroke="#8c8c8c" stroke-width="1.1"/>
<line x1="506" y1="350.5" x2="506" y2="353.1" stroke="#8c8c8c" stroke-width="1.1" />
<line x1="539.52" y1="350.5" x2="539.52" y2="353.1" stroke="#8c8c8c" stroke-width="1.1" />
<line x1="573.04" y1="350.5" x2="573.04" y2="353.1" stroke="#8c8c8c" stroke-width="1.1" />
<line x1="606.56" y1="350.5" x2="606.56" y2="353.1" stroke="#8c8c8c" stroke-width="1.1" />
<line x1="640.08" y1="350.5" x2="640.08" y2="353.1" stroke="#8c8c8c" stroke-width="1.1" />
<line x1="673.6" y1="350.5" x2="673.6" y2="353.1" stroke="#8c8c8c" stroke-width="1.1" />
<line x1="522.76" y1="350.5" x2="522.76" y2="352" stroke="#8c8c8c" stroke-width="0.9" />
<line x1="556.28" y1="350.5" x2="556.28" y2="352" stroke="#8c8c8c" stroke-width="0.9" />
<line x1="589.8" y1="350.5" x2="589.8" y2="352" stroke="#8c8c8c" stroke-width="0.9" />
<line x1="623.32" y1="350.5" x2="623.32" y2="352" stroke="#8c8c8c" stroke-width="0.9" />
<line x1="656.84" y1="350.5" x2="656.84" y2="352" stroke="#8c8c8c" stroke-width="0.9" />
<line x1="503.4" y1="342.4" x2="506" y2="342.4" stroke="#8c8c8c" stroke-width="1.1" />
<line x1="503.4" y1="317" x2="506" y2="317" stroke="#8c8c8c" stroke-width="1.1" />
<line x1="503.4" y1="291.6" x2="506" y2="291.6" stroke="#8c8c8c" stroke-width="1.1" />
<line x1="503.4" y1="266.2" x2="506" y2="266.2" stroke="#8c8c8c" stroke-width="1.1" />
<line x1="503.4" y1="240.8" x2="506" y2="240.8" stroke="#8c8c8c" stroke-width="1.1" />
<line x1="503.4" y1="215.4" x2="506" y2="215.4" stroke="#8c8c8c" stroke-width="1.1" />
<line x1="504.5" y1="329.7" x2="506" y2="329.7" stroke="#8c8c8c" stroke-width="0.9" />
<line x1="504.5" y1="304.3" x2="506" y2="304.3" stroke="#8c8c8c" stroke-width="0.9" />
<line x1="504.5" y1="278.9" x2="506" y2="278.9" stroke="#8c8c8c" stroke-width="0.9" />
<line x1="504.5" y1="253.5" x2="506" y2="253.5" stroke="#8c8c8c" stroke-width="0.9" />
<line x1="504.5" y1="228.1" x2="506" y2="228.1" stroke="#8c8c8c" stroke-width="0.9" />
<text x="506" y="366.5" font-size="13" text-anchor="middle" fill="#111" font-weight="normal"  stroke="#111" stroke-width="0.25">0</text>
<text x="500" y="347.1" font-size="13" text-anchor="end" fill="#111" font-weight="normal"  stroke="#111" stroke-width="0.25">0</text>
<text x="539.52" y="366.5" font-size="13" text-anchor="middle" fill="#111" font-weight="normal"  stroke="#111" stroke-width="0.25">1</text>
<text x="500" y="321.7" font-size="13" text-anchor="end" fill="#111" font-weight="normal"  stroke="#111" stroke-width="0.25">1</text>
<text x="573.04" y="366.5" font-size="13" text-anchor="middle" fill="#111" font-weight="normal"  stroke="#111" stroke-width="0.25">2</text>
<text x="500" y="296.3" font-size="13" text-anchor="end" fill="#111" font-weight="normal"  stroke="#111" stroke-width="0.25">2</text>
<text x="606.56" y="366.5" font-size="13" text-anchor="middle" fill="#111" font-weight="normal"  stroke="#111" stroke-width="0.25">3</text>
<text x="500" y="270.9" font-size="13" text-anchor="end" fill="#111" font-weight="normal"  stroke="#111" stroke-width="0.25">3</text>
<text x="640.08" y="366.5" font-size="13" text-anchor="middle" fill="#111" font-weight="normal"  stroke="#111" stroke-width="0.25">4</text>
<text x="500" y="245.5" font-size="13" text-anchor="end" fill="#111" font-weight="normal"  stroke="#111" stroke-width="0.25">4</text>
<text x="673.6" y="366.5" font-size="13" text-anchor="middle" fill="#111" font-weight="normal"  stroke="#111" stroke-width="0.25">5</text>
<text x="500" y="220.1" font-size="13" text-anchor="end" fill="#111" font-weight="normal"  stroke="#111" stroke-width="0.25">5</text>
<text x="591.5" y="382.7" font-size="14" text-anchor="middle" fill="#111" font-weight="normal"  stroke="#111" stroke-width="0.25">Voltage (mV)</text>
<text x="0" y="0" font-size="14.4" text-anchor="middle" fill="#111" transform="translate(485.7,294.75) rotate(-90)" dy="0" stroke="#111" stroke-width="0.25">Current (μA)</text>
<text x="510.5" y="228.4" font-size="9.6" text-anchor="start" fill="#111" font-weight="normal"  stroke="#111" stroke-width="0.25">ε=</text>
<line x1="524.4" y1="225.1" x2="542" y2="225.1" stroke="#f7c000" stroke-width="1.4" />
<text x="545" y="227.8" font-size="10.2" text-anchor="start" fill="#111" font-weight="normal"  stroke="#111" stroke-width="0.25">0%</text>
<line x1="524.4" y1="236.76" x2="542" y2="236.76" stroke="#2f4f8f" stroke-width="1.4" />
<text x="545" y="239.46" font-size="10.2" text-anchor="start" fill="#111" font-weight="normal"  stroke="#111" stroke-width="0.25">5%</text>
<line x1="524.4" y1="248.42" x2="542" y2="248.42" stroke="#f0452a" stroke-width="1.4" />
<text x="545" y="251.12" font-size="10.2" text-anchor="start" fill="#111" font-weight="normal"  stroke="#111" stroke-width="0.25">15%</text>
<line x1="524.4" y1="260.08" x2="542" y2="260.08" stroke="#3c9a46" stroke-width="1.4" />
<text x="545" y="262.78" font-size="10.2" text-anchor="start" fill="#111" font-weight="normal"  stroke="#111" stroke-width="0.25">25%</text>
<line x1="524.4" y1="271.74" x2="542" y2="271.74" stroke="#ff8c1a" stroke-width="1.4" />
<text x="545" y="274.44" font-size="10.2" text-anchor="start" fill="#111" font-weight="normal"  stroke="#111" stroke-width="0.25">35%</text>
<line x1="524.4" y1="283.4" x2="542" y2="283.4" stroke="#7a5cc0" stroke-width="1.4" />
<text x="545" y="286.1" font-size="10.2" text-anchor="start" fill="#111" font-weight="normal"  stroke="#111" stroke-width="0.25">45%</text>
<clipPath id="cg"><rect x="54.0" y="400.3" width="167.4" height="134.7"/></clipPath><g clip-path="url(#cg)">
<path d="M54.4,528.6 L54.6,527.9 L64.6,527.9 L65,528.6 L65.09,527.95 L65.27,527.6 L65.45,528.2 L65.63,527.95 L65.93,528.6 L66.5,528.6 L66.59,527.95 L66.77,527.6 L66.95,528.2 L67.13,527.95 L67.43,528.6 L68,528.6 L68.09,527.95 L68.27,527.6 L68.45,528.2 L68.63,527.95 L68.93,528.6 L69.5,528.6 L69.59,527.95 L69.77,527.6 L69.95,528.2 L70.13,527.95 L70.43,528.6 L71,528.6 L71.09,527.95 L71.27,527.6 L71.45,528.2 L71.63,527.95 L71.93,528.6 L72.5,528.6 L72.59,527.95 L72.77,527.6 L72.95,528.2 L73.13,527.95 L73.43,528.6 L74,528.6 L74.09,527.95 L74.27,527.6 L74.45,528.2 L74.63,527.95 L74.93,528.6 L75.5,528.6 L77.1,528.6 L77.19,527.3 L77.37,526.6 L77.54,527.2 L77.72,527.3 L78.01,528.6 L78.57,528.6 L78.66,527.3 L78.84,526.6 L79.02,527.2 L79.19,527.3 L79.49,528.6 L80.05,528.6 L80.14,527.3 L80.32,526.6 L80.49,527.2 L80.67,527.3 L80.96,528.6 L81.53,528.6 L81.61,527.3 L81.79,526.6 L81.97,527.2 L82.14,527.3 L82.44,528.6 L83,528.6 L83.09,527.3 L83.27,526.6 L83.44,527.2 L83.62,527.3 L83.91,528.6 L84.47,528.6 L84.56,527.3 L84.74,526.6 L84.92,527.2 L85.09,527.3 L85.39,528.6 L85.95,528.6 L86.04,527.3 L86.22,526.6 L86.39,527.2 L86.57,527.3 L86.86,528.6 L87.43,528.6 L87.51,527.3 L87.69,526.6 L87.87,527.2 L88.04,527.3 L88.34,528.6 L88.9,528.6 L90.7,528.6 L90.81,525.74 L91.02,524.2 L91.23,524.8 L91.45,525.74 L91.8,528.6 L92.48,528.6 L92.58,525.74 L92.79,524.2 L93.01,524.8 L93.22,525.74 L93.58,528.6 L94.25,528.6 L94.36,525.74 L94.57,524.2 L94.78,524.8 L95,525.74 L95.35,528.6 L96.03,528.6 L96.13,525.74 L96.34,524.2 L96.56,524.8 L96.77,525.74 L97.13,528.6 L97.8,528.6 L97.91,525.74 L98.12,524.2 L98.33,524.8 L98.55,525.74 L98.9,528.6 L99.58,528.6 L99.68,525.74 L99.89,524.2 L100.11,524.8 L100.32,525.74 L100.68,528.6 L101.35,528.6 L101.46,525.74 L101.67,524.2 L101.88,524.8 L102.1,525.74 L102.45,528.6 L103.13,528.6 L103.23,525.74 L103.44,524.2 L103.66,524.8 L103.87,525.74 L104.23,528.6 L104.9,528.6 L107.2,528.6 L107.31,523.2 L107.52,520.3 L107.73,520.9 L107.94,523.2 L108.29,528.6 L108.96,528.6 L109.06,523.2 L109.27,520.3 L109.48,520.9 L109.69,523.2 L110.04,528.6 L110.71,528.6 L110.82,523.2 L111.03,520.3 L111.24,520.9 L111.45,523.2 L111.8,528.6 L112.47,528.6 L112.57,523.2 L112.78,520.3 L112.99,520.9 L113.2,523.2 L113.56,528.6 L114.22,528.6 L114.33,523.2 L114.54,520.3 L114.75,520.9 L114.96,523.2 L115.31,528.6 L115.98,528.6 L116.08,523.2 L116.29,520.3 L116.5,520.9 L116.72,523.2 L117.07,528.6 L117.73,528.6 L117.84,523.2 L118.05,520.3 L118.26,520.9 L118.47,523.2 L118.82,528.6 L119.49,528.6 L119.59,523.2 L119.8,520.3 L120.02,520.9 L120.23,523.2 L120.58,528.6 L121.24,528.6 L121.35,523.2 L121.56,520.3 L121.77,520.9 L121.98,523.2 L122.33,528.6 L123,528.6 L125,528.6 L125.14,519.89 L125.41,515.2 L125.69,515.8 L125.96,519.89 L126.42,528.6 L127.29,528.6 L127.42,518.72 L127.7,513.4 L127.97,514 L128.25,518.72 L128.71,528.6 L129.57,528.6 L129.71,518.59 L129.99,513.2 L130.26,513.8 L130.54,518.59 L130.99,528.6 L131.86,528.6 L132,518.59 L132.27,513.2 L132.55,513.8 L132.82,518.59 L133.28,528.6 L134.15,528.6 L134.29,518.59 L134.56,513.2 L134.84,513.8 L135.11,518.59 L135.57,528.6 L136.44,528.6 L136.57,518.59 L136.85,513.2 L137.12,513.8 L137.4,518.59 L137.86,528.6 L138.72,528.6 L138.86,518.59 L139.14,513.2 L139.41,513.8 L139.69,518.59 L140.14,528.6 L141.01,528.6 L141.15,518.72 L141.42,513.4 L141.7,514 L141.97,518.72 L142.43,528.6 L143.3,528.6 L145.8,528.6 L145.95,511.96 L146.26,503 L146.57,503.6 L146.88,511.96 L147.39,528.6 L148.36,528.6 L148.52,510.66 L148.82,501 L149.13,501.6 L149.44,510.66 L149.95,528.6 L150.93,528.6 L151.08,509.69 L151.39,499.5 L151.69,500.1 L152,509.69 L152.51,528.6 L153.49,528.6 L153.64,509.49 L153.95,499.2 L154.26,499.8 L154.56,509.49 L155.08,528.6 L156.05,528.6 L156.2,509.49 L156.51,499.2 L156.82,499.8 L157.13,509.49 L157.64,528.6 L158.61,528.6 L158.77,509.49 L159.07,499.2 L159.38,499.8 L159.69,509.49 L160.2,528.6 L161.18,528.6 L161.33,509.49 L161.64,499.2 L161.94,499.8 L162.25,509.49 L162.76,528.6 L163.74,528.6 L163.89,509.69 L164.2,499.5 L164.51,500.1 L164.81,509.69 L165.33,528.6 L166.3,528.6 L169.2,528.6 L169.36,495.71 L169.69,478 L170.02,478.6 L170.35,495.71 L170.9,528.6 L171.94,528.6 L172.1,494.21 L172.43,475.7 L172.76,476.3 L173.09,494.21 L173.63,528.6 L174.68,528.6 L174.84,491.55 L175.17,471.6 L175.5,472.2 L175.82,491.55 L176.37,528.6 L177.41,528.6 L177.58,492.72 L177.91,473.4 L178.23,474 L178.56,492.72 L179.11,528.6 L180.15,528.6 L180.31,492.72 L180.64,473.4 L180.97,474 L181.3,492.72 L181.85,528.6 L182.89,528.6 L183.05,492.72 L183.38,473.4 L183.71,474 L184.04,492.72 L184.58,528.6 L185.62,528.6 L185.79,492.72 L186.12,473.4 L186.45,474 L186.77,492.72 L187.32,528.6 L188.36,528.6 L188.53,494.09 L188.86,475.5 L189.18,476.1 L189.51,494.09 L190.06,528.6 L191.1,528.6 L194.7,528.6 L194.88,458.21 L195.25,420.3 L195.61,420.9 L195.98,458.21 L196.59,528.6 L197.75,528.6 L197.93,465.16 L198.3,431 L198.66,431.6 L199.03,465.16 L199.64,528.6 L200.8,528.6 L200.98,458.92 L201.35,421.4 L201.71,422 L202.08,458.92 L202.69,528.6 L203.85,528.6 L204.03,461.59 L204.4,425.5 L204.76,426.1 L205.13,461.59 L205.74,528.6 L206.9,528.6 L207.08,458.92 L207.45,421.4 L207.81,422 L208.18,458.92 L208.79,528.6 L209.95,528.6 L210.13,459.63 L210.5,422.5 L210.86,423.1 L211.23,459.63 L211.84,528.6 L213,528.6 L213.18,458.21 L213.55,420.3 L213.91,420.9 L214.28,458.21 L214.89,528.6 L216.05,528.6 L216.23,459.63 L216.6,422.5 L216.96,423.1 L217.33,459.63 L217.94,528.6 L219.1,528.6 L221.4,528.6" stroke="#3a79bc" stroke-width="1.05" fill="none" stroke-linejoin="round" />
</g>
<rect x="54" y="400.3" width="167.4" height="134.7" fill="none" stroke="#8c8c8c" stroke-width="1.1"/>
<line x1="54.4" y1="535" x2="54.4" y2="537.6" stroke="#8c8c8c" stroke-width="1.1" />
<line x1="84.4" y1="535" x2="84.4" y2="537.6" stroke="#8c8c8c" stroke-width="1.1" />
<line x1="114.4" y1="535" x2="114.4" y2="537.6" stroke="#8c8c8c" stroke-width="1.1" />
<line x1="144.4" y1="535" x2="144.4" y2="537.6" stroke="#8c8c8c" stroke-width="1.1" />
<line x1="174.4" y1="535" x2="174.4" y2="537.6" stroke="#8c8c8c" stroke-width="1.1" />
<line x1="204.4" y1="535" x2="204.4" y2="537.6" stroke="#8c8c8c" stroke-width="1.1" />
<line x1="69.4" y1="535" x2="69.4" y2="536.5" stroke="#8c8c8c" stroke-width="0.9" />
<line x1="99.4" y1="535" x2="99.4" y2="536.5" stroke="#8c8c8c" stroke-width="0.9" />
<line x1="129.4" y1="535" x2="129.4" y2="536.5" stroke="#8c8c8c" stroke-width="0.9" />
<line x1="159.4" y1="535" x2="159.4" y2="536.5" stroke="#8c8c8c" stroke-width="0.9" />
<line x1="189.4" y1="535" x2="189.4" y2="536.5" stroke="#8c8c8c" stroke-width="0.9" />
<line x1="219.4" y1="535" x2="219.4" y2="536.5" stroke="#8c8c8c" stroke-width="0.9" />
<line x1="51.4" y1="528.6" x2="54" y2="528.6" stroke="#8c8c8c" stroke-width="1.1" />
<line x1="51.4" y1="503" x2="54" y2="503" stroke="#8c8c8c" stroke-width="1.1" />
<line x1="51.4" y1="477.4" x2="54" y2="477.4" stroke="#8c8c8c" stroke-width="1.1" />
<line x1="51.4" y1="451.8" x2="54" y2="451.8" stroke="#8c8c8c" stroke-width="1.1" />
<line x1="51.4" y1="426.2" x2="54" y2="426.2" stroke="#8c8c8c" stroke-width="1.1" />
<line x1="51.4" y1="400.6" x2="54" y2="400.6" stroke="#8c8c8c" stroke-width="1.1" />
<line x1="52.5" y1="515.8" x2="54" y2="515.8" stroke="#8c8c8c" stroke-width="0.9" />
<line x1="52.5" y1="490.2" x2="54" y2="490.2" stroke="#8c8c8c" stroke-width="0.9" />
<line x1="52.5" y1="464.6" x2="54" y2="464.6" stroke="#8c8c8c" stroke-width="0.9" />
<line x1="52.5" y1="439" x2="54" y2="439" stroke="#8c8c8c" stroke-width="0.9" />
<line x1="52.5" y1="413.4" x2="54" y2="413.4" stroke="#8c8c8c" stroke-width="0.9" />
<text x="54.4" y="549.8" font-size="13" text-anchor="middle" fill="#111" font-weight="normal"  stroke="#111" stroke-width="0.25">0</text>
<text x="84.4" y="549.8" font-size="13" text-anchor="middle" fill="#111" font-weight="normal"  stroke="#111" stroke-width="0.25">200</text>
<text x="114.4" y="549.8" font-size="13" text-anchor="middle" fill="#111" font-weight="normal"  stroke="#111" stroke-width="0.25">400</text>
<text x="144.4" y="549.8" font-size="13" text-anchor="middle" fill="#111" font-weight="normal"  stroke="#111" stroke-width="0.25">600</text>
<text x="174.4" y="549.8" font-size="13" text-anchor="middle" fill="#111" font-weight="normal"  stroke="#111" stroke-width="0.25">800</text>
<text x="204.4" y="549.8" font-size="13" text-anchor="middle" fill="#111" font-weight="normal"  stroke="#111" stroke-width="0.25">1000</text>
<text x="49.4" y="534" font-size="13" text-anchor="end" fill="#111" font-weight="normal"  stroke="#111" stroke-width="0.25">0</text>
<text x="49.4" y="508.4" font-size="13" text-anchor="end" fill="#111" font-weight="normal"  stroke="#111" stroke-width="0.25">60</text>
<text x="49.4" y="482.8" font-size="13" text-anchor="end" fill="#111" font-weight="normal"  stroke="#111" stroke-width="0.25">120</text>
<text x="49.4" y="457.2" font-size="13" text-anchor="end" fill="#111" font-weight="normal"  stroke="#111" stroke-width="0.25">180</text>
<text x="49.4" y="431.6" font-size="13" text-anchor="end" fill="#111" font-weight="normal"  stroke="#111" stroke-width="0.25">240</text>
<text x="49.4" y="406" font-size="13" text-anchor="end" fill="#111" font-weight="normal"  stroke="#111" stroke-width="0.25">300</text>
<text x="140.4" y="565.4" font-size="13.8" text-anchor="middle" fill="#111" font-weight="normal"  stroke="#111" stroke-width="0.25">Time (s)</text>
<text x="0" y="0" font-size="13.3" text-anchor="middle" fill="#111" transform="translate(22.4,460.8) rotate(-90)" stroke="#111" stroke-width="0.25">ΔR/R<tspan font-size="9" dy="3">0</tspan></text>
<path d="M80.61,515.64 L185.85,430.53 L186.8,431.7 L189.9,425.2 L182.9,426.88 L183.84,428.04 L78.59,513.16 Z" fill="#dbe5f4" stroke="#bdd0ea" stroke-width="0.9" stroke-linejoin="round"/>
<text x="57.3" y="518.3" font-size="10.5" text-anchor="start" fill="#111" font-weight="normal"  stroke="#111" stroke-width="0.25">5%</text>
<text x="194.6" y="415.2" font-size="9.8" text-anchor="start" fill="#111" font-weight="normal"  stroke="#111" stroke-width="0.25">45%</text>
<rect x="54.6" y="521.4" width="52.3" height="9.2" fill="none" stroke="#e83030" stroke-width="1.05" stroke-dasharray="1.8,1.0"/>
<rect x="62.4" y="402.4" width="73.2" height="62" fill="#fff" stroke="#e83030" stroke-width="1.05" stroke-dasharray="1.8,1.0"/>
<line x1="81.5" y1="443.6" x2="132.3" y2="443.6" stroke="#4f8bcb" stroke-width="0.6" />
<line x1="82.7" y1="443" x2="90.1" y2="443" stroke="#4f8bcb" stroke-width="0.9" />
<rect x="92.2" y="439.9" width="9.6" height="3.7" fill="#d6e5f5"/>
<path d="M92.34,443.6 L92.54,439.9 L92.95,443.6 M93.71,443.6 L93.91,439.9 L94.33,443.6 M95.08,443.6 L95.29,439.9 L95.7,443.6 M96.45,443.6 L96.66,439.9 L97.07,443.6 M97.82,443.6 L98.03,439.9 L98.44,443.6 M99.19,443.6 L99.4,439.9 L99.81,443.6 M100.57,443.6 L100.77,439.9 L101.18,443.6 " stroke="#4f8bcb" stroke-width="0.5" fill="none"/>
<rect x="104" y="430.7" width="11" height="12.9" fill="#d6e5f5"/>
<path d="M104.14,443.6 L104.34,430.7 L104.76,443.6 M105.51,443.6 L105.72,430.7 L106.13,443.6 M106.89,443.6 L107.09,430.7 L107.51,443.6 M108.26,443.6 L108.47,430.7 L108.88,443.6 M109.64,443.6 L109.84,430.7 L110.26,443.6 M111.01,443.6 L111.22,430.7 L111.63,443.6 M112.39,443.6 L112.59,430.7 L113.01,443.6 M113.76,443.6 L113.97,430.7 L114.38,443.6 " stroke="#4f8bcb" stroke-width="0.5" fill="none"/>
<rect x="116.8" y="410" width="13.8" height="33.6" fill="#d6e5f5"/>
<path d="M116.95,443.6 L117.18,411.5 L117.64,443.6 M118.49,443.6 L118.72,410.8 L119.18,443.6 M120.02,443.6 L120.25,410.3 L120.71,443.6 M121.55,443.6 L121.78,410 L122.24,443.6 M123.09,443.6 L123.32,410 L123.78,443.6 M124.62,443.6 L124.85,410 L125.31,443.6 M126.15,443.6 L126.38,410 L126.84,443.6 M127.69,443.6 L127.92,410 L128.38,443.6 M129.22,443.6 L129.45,410 L129.91,443.6 " stroke="#4f8bcb" stroke-width="0.5" fill="none"/>
<rect x="81.2" y="405.5" width="51.1" height="40.8" fill="none" stroke="#aaa" stroke-width="0.8"/>
<line x1="81.5" y1="446.3" x2="81.5" y2="447.6" stroke="#aaa" stroke-width="0.7" />
<text x="81.5" y="452.7" font-size="6.3" text-anchor="middle" fill="#000" font-weight="normal"  stroke="#000" stroke-width="0.25">0</text>
<line x1="95.83" y1="446.3" x2="95.83" y2="447.6" stroke="#aaa" stroke-width="0.7" />
<text x="95.83" y="452.7" font-size="6.3" text-anchor="middle" fill="#000" font-weight="normal"  stroke="#000" stroke-width="0.25">100</text>
<line x1="110.17" y1="446.3" x2="110.17" y2="447.6" stroke="#aaa" stroke-width="0.7" />
<text x="110.17" y="452.7" font-size="6.3" text-anchor="middle" fill="#000" font-weight="normal"  stroke="#000" stroke-width="0.25">200</text>
<line x1="124.5" y1="446.3" x2="124.5" y2="447.6" stroke="#aaa" stroke-width="0.7" />
<text x="124.5" y="452.7" font-size="6.3" text-anchor="middle" fill="#000" font-weight="normal"  stroke="#000" stroke-width="0.25">300</text>
<line x1="79.9" y1="443.6" x2="81.2" y2="443.6" stroke="#aaa" stroke-width="0.7" />
<text x="79.2" y="445.9" font-size="6.3" text-anchor="end" fill="#000" font-weight="normal"  stroke="#000" stroke-width="0.25">0</text>
<line x1="79.9" y1="426.1" x2="81.2" y2="426.1" stroke="#aaa" stroke-width="0.7" />
<text x="79.2" y="428.4" font-size="6.3" text-anchor="end" fill="#000" font-weight="normal"  stroke="#000" stroke-width="0.25">5</text>
<line x1="79.9" y1="408.6" x2="81.2" y2="408.6" stroke="#aaa" stroke-width="0.7" />
<text x="79.2" y="410.9" font-size="6.3" text-anchor="end" fill="#000" font-weight="normal"  stroke="#000" stroke-width="0.25">10</text>
<text x="106.2" y="459" font-size="6.3" text-anchor="middle" fill="#000" font-weight="normal"  stroke="#000" stroke-width="0.25">Time (s)</text>
<text x="0" y="0" font-size="6.3" text-anchor="middle" fill="#000" transform="translate(71.5,433.5) rotate(-90)" stroke="#000" stroke-width="0.25">ΔR/R<tspan font-size="4.5" dy="1.5">0</tspan></text>
<rect x="283.3" y="400.2" width="167.6" height="135" fill="none" stroke="#8c8c8c" stroke-width="1.1"/>
<line x1="298.3" y1="535.2" x2="298.3" y2="537.8" stroke="#8c8c8c" stroke-width="1.1" />
<line x1="328.82" y1="535.2" x2="328.82" y2="537.8" stroke="#8c8c8c" stroke-width="1.1" />
<line x1="359.35" y1="535.2" x2="359.35" y2="537.8" stroke="#8c8c8c" stroke-width="1.1" />
<line x1="389.88" y1="535.2" x2="389.88" y2="537.8" stroke="#8c8c8c" stroke-width="1.1" />
<line x1="420.4" y1="535.2" x2="420.4" y2="537.8" stroke="#8c8c8c" stroke-width="1.1" />
<line x1="450.92" y1="535.2" x2="450.92" y2="537.8" stroke="#8c8c8c" stroke-width="1.1" />
<line x1="283.04" y1="535.2" x2="283.04" y2="536.7" stroke="#8c8c8c" stroke-width="0.9" />
<line x1="313.56" y1="535.2" x2="313.56" y2="536.7" stroke="#8c8c8c" stroke-width="0.9" />
<line x1="344.09" y1="535.2" x2="344.09" y2="536.7" stroke="#8c8c8c" stroke-width="0.9" />
<line x1="374.61" y1="535.2" x2="374.61" y2="536.7" stroke="#8c8c8c" stroke-width="0.9" />
<line x1="405.14" y1="535.2" x2="405.14" y2="536.7" stroke="#8c8c8c" stroke-width="0.9" />
<line x1="435.66" y1="535.2" x2="435.66" y2="536.7" stroke="#8c8c8c" stroke-width="0.9" />
<line x1="280.7" y1="523.8" x2="283.3" y2="523.8" stroke="#8c8c8c" stroke-width="1.1" />
<line x1="280.7" y1="496.82" x2="283.3" y2="496.82" stroke="#8c8c8c" stroke-width="1.1" />
<line x1="280.7" y1="469.85" x2="283.3" y2="469.85" stroke="#8c8c8c" stroke-width="1.1" />
<line x1="280.7" y1="442.88" x2="283.3" y2="442.88" stroke="#8c8c8c" stroke-width="1.1" />
<line x1="280.7" y1="415.9" x2="283.3" y2="415.9" stroke="#8c8c8c" stroke-width="1.1" />
<line x1="281.8" y1="510.31" x2="283.3" y2="510.31" stroke="#8c8c8c" stroke-width="0.9" />
<line x1="281.8" y1="483.34" x2="283.3" y2="483.34" stroke="#8c8c8c" stroke-width="0.9" />
<line x1="281.8" y1="456.36" x2="283.3" y2="456.36" stroke="#8c8c8c" stroke-width="0.9" />
<line x1="281.8" y1="429.39" x2="283.3" y2="429.39" stroke="#8c8c8c" stroke-width="0.9" />
<line x1="281.8" y1="402.41" x2="283.3" y2="402.41" stroke="#8c8c8c" stroke-width="0.9" />
<path d="M298.5,524.1 L314,524.1 L329,523.8 L344.4,522.6 L359.7,520 L374.75,516.4 L389.8,509.4 L405.1,496.2 L420.4,468.7 L435.6,421.6" stroke="#666" stroke-width="0.7" fill="none" stroke-linejoin="round" />
<line x1="298.3" y1="527.2" x2="390.3" y2="511.7" stroke="#3a64b4" stroke-width="1.8" />
<line x1="389.8" y1="517.2" x2="434.9" y2="422.9" stroke="#f5821f" stroke-width="2.0" />
<line x1="405.1" y1="492.1" x2="405.1" y2="499.7" stroke="#3ca03c" stroke-width="0.9" />
<line x1="403.5" y1="492.1" x2="406.7" y2="492.1" stroke="#3ca03c" stroke-width="0.9" />
<line x1="403.5" y1="499.7" x2="406.7" y2="499.7" stroke="#3ca03c" stroke-width="0.9" />
<line x1="420.4" y1="463.6" x2="420.4" y2="473.8" stroke="#3ca03c" stroke-width="0.9" />
<line x1="418.8" y1="463.6" x2="422" y2="463.6" stroke="#3ca03c" stroke-width="0.9" />
<line x1="418.8" y1="473.8" x2="422" y2="473.8" stroke="#3ca03c" stroke-width="0.9" />
<line x1="435.6" y1="412.7" x2="435.6" y2="429.3" stroke="#3ca03c" stroke-width="0.9" />
<line x1="434" y1="412.7" x2="437.2" y2="412.7" stroke="#3ca03c" stroke-width="0.9" />
<line x1="434" y1="429.3" x2="437.2" y2="429.3" stroke="#3ca03c" stroke-width="0.9" />
<circle cx="298.5" cy="524.1" r="2.3" fill="url(#dotG)"/>
<circle cx="314" cy="524.1" r="2.3" fill="url(#dotG)"/>
<circle cx="329" cy="523.8" r="2.3" fill="url(#dotG)"/>
<circle cx="344.4" cy="522.6" r="2.3" fill="url(#dotG)"/>
<circle cx="359.7" cy="520" r="2.3" fill="url(#dotG)"/>
<circle cx="374.75" cy="516.4" r="2.3" fill="url(#dotG)"/>
<circle cx="389.8" cy="509.4" r="2.3" fill="url(#dotG)"/>
<circle cx="405.1" cy="496.2" r="2.3" fill="url(#dotG)"/>
<circle cx="420.4" cy="468.7" r="2.3" fill="url(#dotG)"/>
<circle cx="435.6" cy="421.6" r="2.3" fill="url(#dotG)"/>
<line x1="335.1" y1="486.8" x2="353.78" y2="510.4" stroke="#1f3f7a" stroke-width="2.2" />
<path d="M357.5,515.1 L349.86,512.22 L356.45,507 Z" fill="#1f3f7a"/>
<line x1="369.4" y1="435.9" x2="405.35" y2="462.07" stroke="#f5821f" stroke-width="2.2" />
<path d="M410.2,465.6 L402.07,464.88 L407.01,458.08 Z" fill="#f5821f"/>
<text x="298.3" y="550.2" font-size="13" text-anchor="middle" fill="#111" font-weight="normal"  stroke="#111" stroke-width="0.25">0</text>
<text x="330.12" y="550.2" font-size="13" text-anchor="middle" fill="#111" font-weight="normal"  stroke="#111" stroke-width="0.25">10</text>
<text x="360.65" y="550.2" font-size="13" text-anchor="middle" fill="#111" font-weight="normal"  stroke="#111" stroke-width="0.25">20</text>
<text x="391.18" y="550.2" font-size="13" text-anchor="middle" fill="#111" font-weight="normal"  stroke="#111" stroke-width="0.25">30</text>
<text x="421.7" y="550.2" font-size="13" text-anchor="middle" fill="#111" font-weight="normal"  stroke="#111" stroke-width="0.25">40</text>
<text x="452.22" y="550.2" font-size="13" text-anchor="middle" fill="#111" font-weight="normal"  stroke="#111" stroke-width="0.25">50</text>
<text x="279.2" y="527.7" font-size="13" text-anchor="end" fill="#111" font-weight="normal"  stroke="#111" stroke-width="0.25">0</text>
<text x="279.2" y="500.72" font-size="13" text-anchor="end" fill="#111" font-weight="normal"  stroke="#111" stroke-width="0.25">60</text>
<text x="279.2" y="473.75" font-size="13" text-anchor="end" fill="#111" font-weight="normal"  stroke="#111" stroke-width="0.25">120</text>
<text x="279.2" y="446.77" font-size="13" text-anchor="end" fill="#111" font-weight="normal"  stroke="#111" stroke-width="0.25">180</text>
<text x="279.2" y="419.8" font-size="13" text-anchor="end" fill="#111" font-weight="normal"  stroke="#111" stroke-width="0.25">240</text>
<text x="365.3" y="566.3" font-size="14" text-anchor="middle" fill="#111" font-weight="normal"  stroke="#111" stroke-width="0.25">Strain (%)</text>
<text x="0" y="0" font-size="13.3" text-anchor="middle" fill="#111" transform="translate(249.5,473.7) rotate(-90)" stroke="#111" stroke-width="0.25">ΔR/R<tspan font-size="9" dy="3">0</tspan></text>
<text x="327" y="427" font-size="13" fill="#f5821f" stroke="#f5821f" stroke-width="0.25">GF<tspan font-size="9" dy="0">2</tspan> ≈ 1401.5</text>
<text x="303.7" y="478.5" font-size="13" fill="#2f5597" stroke="#2f5597" stroke-width="0.25">GF<tspan font-size="9">1</tspan>≈109.8</text>
<clipPath id="ci"><rect x="506.8" y="400.0" width="167.90000000000003" height="134.5"/></clipPath><g clip-path="url(#ci)">
<path d="M507,523.8 L510,523.5 L512,522.8 L512,522.32 L512.13,522.23 L512.27,521.93 L512.4,521.45 L512.54,520.85 L512.67,520.17 L512.81,519.51 L512.95,518.92 L513.08,518.47 L513.22,518.21 L513.35,518.17 L513.49,518.35 L513.62,518.74 L513.75,519.31 L513.89,519.98 L514.02,520.7 L514.16,521.38 L514.29,521.95 L514.43,522.36 L514.57,522.55 L514.7,522.5 L514.84,522.22 L514.97,521.73 L515.11,521.09 L515.24,520.36 L515.38,519.61 L515.51,518.93 L515.64,518.38 L515.78,518.04 L515.91,517.93 L516.05,518.07 L516.18,518.45 L516.32,519.03 L516.46,519.75 L516.59,520.53 L516.73,521.3 L516.86,521.96 L517,522.46 L517.13,522.73 L517.26,522.74 L517.4,522.49 L517.53,522.02 L517.67,521.35 L517.8,520.57 L517.94,519.76 L518.08,518.99 L518.21,518.37 L518.35,517.94 L518.48,517.76 L518.62,517.84 L518.75,518.19 L518.88,518.76 L519.02,519.5 L519.15,520.33 L519.29,521.16 L519.42,521.9 L519.56,522.48 L519.7,522.83 L519.83,522.91 L519.97,522.72 L520.1,522.27 L520.24,521.61 L520.37,520.81 L520.5,519.95 L520.64,519.13 L520.77,518.42 L520.91,517.92 L521.04,517.66 L521.18,517.68 L521.32,517.98 L521.45,518.53 L521.59,519.26 L521.72,520.11 L521.86,520.97 L521.99,521.77 L522.12,522.42 L522.26,522.84 L522.39,522.99 L522.53,522.86 L522.66,522.46 L522.8,521.83 L522.93,521.04 L523.07,520.17 L523.21,519.31 L523.34,518.56 L523.48,517.99 L523.61,517.66 L523.75,517.62 L523.88,517.85 L524.01,518.35 L524.15,519.05 L524.28,519.88 L524.42,520.75 L524.55,521.58 L524.69,522.27 L524.83,522.75 L524.96,522.97 L525.1,522.91 L525.23,522.58 L525.37,522 L525.5,521.25 L525.63,520.4 L525.77,519.54 L525.9,518.76 L526.04,518.15 L526.17,517.76 L526.31,517.65 L526.45,517.81 L526.58,518.24 L526.72,518.88 L526.85,519.67 L526.99,520.52 L527.12,521.35 L527.25,522.06 L527.39,522.58 L527.52,522.86 L527.66,522.87 L527.79,522.61 L527.93,522.1 L528.07,521.41 L528.2,520.61 L528.34,519.78 L528.47,519.01 L528.61,518.38 L528.74,517.95 L528.88,517.78 L529.01,517.87 L529.14,518.22 L529.28,518.78 L529.41,519.5 L529.55,520.3 L529.68,521.09 L529.82,521.8 L529.96,522.34 L530.09,522.66 L530.23,522.73 L530.36,522.55 L530.5,522.13 L530.63,521.52 L530.76,520.79 L530.9,520.01 L531.03,519.27 L531.17,518.65 L531.3,518.2 L531.44,517.98 L531.58,518.01 L531.71,518.27 L531.85,518.75 L531.98,519.38 L532.12,520.11 L532.25,520.84 L532.38,521.52 L532.52,522.05 L532.65,522.4 L532.79,522.53 L532.92,522.41 L533.06,522.08 L533.2,521.57 L533.33,520.92 L533.47,520.22 L533.6,519.54 L533.74,518.94 L533.87,518.49 L534,518.24 L534.14,518.21 L534.27,518.39 L534.41,518.78 L534.54,519.32 L534.68,519.95 L534.82,520.62 L535.8,523.3 L537.2,524.8" stroke="#505050" stroke-width="1.2" fill="none" stroke-linejoin="round" />
<path d="M537.2,524.8 L538.3,524.3 L539.3,504.9 L539.8,500.9 L540.7,502.4 L541.3,512.9 L541.8,523.6 L542.2,503.2 L542.7,499.2 L543.6,500.7 L544.2,511.2 L544.7,523.6 L545.2,502.3 L545.7,498.3 L546.6,499.8 L547.2,510.3 L547.7,523.6 L548.3,505.5 L548.8,501.5 L549.7,503 L550.3,513.5 L550.8,523.6 L551.1,506.9 L551.6,502.9 L552.5,504.4 L553.1,514.9 L553.6,523.6 L554.2,503.2 L554.7,499.2 L555.6,500.7 L556.2,511.2 L556.7,523.6 L557.1,505.5 L557.6,501.5 L558.5,503 L559.1,513.5 L559.6,523.6 L560,506.2 L560.5,502.2 L561.4,503.7 L562,514.2 L562.5,523.6 L562.3,523.5 L565.4,524" stroke="#e8434a" stroke-width="1.3" fill="none" stroke-linejoin="round" />
<path d="M565.4,524 L566.8,524.3 L567.6,523.5 L568.2,485.9 L568.7,479.9 L569.9,481.9 L570.7,497.9 L571.5,524 L571.5,487.2 L572,481.2 L573.2,483.2 L574,499.2 L574.8,524 L574.8,491.5 L575.3,485.5 L576.5,487.5 L577.3,503.5 L578.1,524 L577.8,494.4 L578.3,488.4 L579.5,490.4 L580.3,506.4 L581.1,524 L580.7,490.7 L581.2,484.7 L582.4,486.7 L583.2,502.7 L584,524 L584,491.8 L584.5,485.8 L585.7,487.8 L586.5,503.8 L587.3,524 L587,491.8 L587.5,485.8 L588.7,487.8 L589.5,503.8 L590.3,524 L590.2,489.1 L590.7,483.1 L591.9,485.1 L592.7,501.1 L593.5,524 L592.5,523.6 L599,523.8" stroke="#3a9a3a" stroke-width="1.3" fill="none" stroke-linejoin="round" />
<path d="M599,523.8 L600,523.5 L600.2,472.3 L600.7,466.3 L602,468.3 L602.9,486.3 L603.7,524.2 L603.9,477.1 L604.4,471.1 L605.7,473.1 L606.6,491.1 L607.4,524.2 L607.5,479.4 L608,473.4 L609.3,475.4 L610.2,493.4 L611,524.2 L611.1,477.5 L611.6,471.5 L612.9,473.5 L613.8,491.5 L614.6,524.2 L614.7,482.3 L615.2,476.3 L616.5,478.3 L617.4,496.3 L618.2,524.2 L618.4,481.3 L618.9,475.3 L620.2,477.3 L621.1,495.3 L621.9,524.2 L622.1,484.2 L622.6,478.2 L623.9,480.2 L624.8,498.2 L625.6,524.2 L625.5,523.6 L630.3,523.6" stroke="#f57f17" stroke-width="1.3" fill="none" stroke-linejoin="round" />
<path d="M630.3,523.6 L633.5,523.4 L634.2,424.2 L634.6,416.2 L635.6,417.2 L636.4,428.2 L637.6,476.2 L638.5,524.4 L639.1,432 L639.5,424 L640.5,425 L641.3,436 L642.5,484 L643.4,524.4 L643.4,429.9 L643.8,421.9 L644.8,422.9 L645.6,433.9 L646.8,481.9 L647.7,524.4 L648.3,430 L648.7,422 L649.7,423 L650.5,434 L651.7,482 L652.6,524.4 L652.3,432.9 L652.7,424.9 L653.7,425.9 L654.5,436.9 L655.7,484.9 L656.6,524.4 L657.1,436.1 L657.5,428.1 L658.5,429.1 L659.3,440.1 L660.5,488.1 L661.4,524.4 L661.5,432.5 L661.9,424.5 L662.9,425.5 L663.7,436.5 L664.9,484.5 L665.8,524.4 L666.4,432.9 L666.8,424.9 L667.8,425.9 L668.6,436.9 L669.8,484.9 L670.7,524.4 L670,523.6 L675,523.8" stroke="#7b5cb5" stroke-width="1.3" fill="none" stroke-linejoin="round" />
</g>
<rect x="506.8" y="400" width="167.9" height="134.5" fill="none" stroke="#8c8c8c" stroke-width="1.1"/>
<line x1="506.8" y1="534.5" x2="506.8" y2="537.1" stroke="#8c8c8c" stroke-width="1.1" />
<line x1="548.77" y1="534.5" x2="548.77" y2="537.1" stroke="#8c8c8c" stroke-width="1.1" />
<line x1="590.75" y1="534.5" x2="590.75" y2="537.1" stroke="#8c8c8c" stroke-width="1.1" />
<line x1="632.73" y1="534.5" x2="632.73" y2="537.1" stroke="#8c8c8c" stroke-width="1.1" />
<line x1="674.7" y1="534.5" x2="674.7" y2="537.1" stroke="#8c8c8c" stroke-width="1.1" />
<line x1="527.79" y1="534.5" x2="527.79" y2="536" stroke="#8c8c8c" stroke-width="0.9" />
<line x1="569.76" y1="534.5" x2="569.76" y2="536" stroke="#8c8c8c" stroke-width="0.9" />
<line x1="611.74" y1="534.5" x2="611.74" y2="536" stroke="#8c8c8c" stroke-width="0.9" />
<line x1="653.71" y1="534.5" x2="653.71" y2="536" stroke="#8c8c8c" stroke-width="0.9" />
<line x1="504.2" y1="524.3" x2="506.8" y2="524.3" stroke="#8c8c8c" stroke-width="1.1" />
<line x1="504.2" y1="497.17" x2="506.8" y2="497.17" stroke="#8c8c8c" stroke-width="1.1" />
<line x1="504.2" y1="470.05" x2="506.8" y2="470.05" stroke="#8c8c8c" stroke-width="1.1" />
<line x1="504.2" y1="442.93" x2="506.8" y2="442.93" stroke="#8c8c8c" stroke-width="1.1" />
<line x1="504.2" y1="415.8" x2="506.8" y2="415.8" stroke="#8c8c8c" stroke-width="1.1" />
<line x1="505.3" y1="510.74" x2="506.8" y2="510.74" stroke="#8c8c8c" stroke-width="0.9" />
<line x1="505.3" y1="483.61" x2="506.8" y2="483.61" stroke="#8c8c8c" stroke-width="0.9" />
<line x1="505.3" y1="456.49" x2="506.8" y2="456.49" stroke="#8c8c8c" stroke-width="0.9" />
<line x1="505.3" y1="429.36" x2="506.8" y2="429.36" stroke="#8c8c8c" stroke-width="0.9" />
<text x="506.8" y="549.8" font-size="13" text-anchor="middle" fill="#111" font-weight="normal"  stroke="#111" stroke-width="0.25">0</text>
<text x="550.07" y="549.8" font-size="13" text-anchor="middle" fill="#111" font-weight="normal"  stroke="#111" stroke-width="0.25">40</text>
<text x="592.05" y="549.8" font-size="13" text-anchor="middle" fill="#111" font-weight="normal"  stroke="#111" stroke-width="0.25">80</text>
<text x="634.02" y="549.8" font-size="13" text-anchor="middle" fill="#111" font-weight="normal"  stroke="#111" stroke-width="0.25">120</text>
<text x="676" y="549.8" font-size="13" text-anchor="middle" fill="#111" font-weight="normal"  stroke="#111" stroke-width="0.25">160</text>
<text x="502.6" y="528.8" font-size="13" text-anchor="end" fill="#111" font-weight="normal"  stroke="#111" stroke-width="0.25">0</text>
<text x="502.6" y="501.67" font-size="13" text-anchor="end" fill="#111" font-weight="normal"  stroke="#111" stroke-width="0.25">0.05</text>
<text x="502.6" y="474.55" font-size="13" text-anchor="end" fill="#111" font-weight="normal"  stroke="#111" stroke-width="0.25">0.1</text>
<text x="502.6" y="447.43" font-size="13" text-anchor="end" fill="#111" font-weight="normal"  stroke="#111" stroke-width="0.25">0.15</text>
<text x="502.6" y="420.3" font-size="13" text-anchor="end" fill="#111" font-weight="normal"  stroke="#111" stroke-width="0.25">0.2</text>
<text x="599.5" y="566.3" font-size="14" text-anchor="middle" fill="#111" font-weight="normal"  stroke="#111" stroke-width="0.25">Time (s)</text>
<text x="0" y="0" font-size="13.3" text-anchor="middle" fill="#111" transform="translate(472.5,470.8) rotate(-90)" stroke="#111" stroke-width="0.25">ΔR/R<tspan font-size="9" dy="3">0</tspan></text>
<text x="513.8" y="414.4" font-size="9.8" text-anchor="start" fill="#111" font-weight="normal"  stroke="#111" stroke-width="0.25">ε =</text>
<line x1="531.2" y1="411" x2="546.3" y2="411" stroke="#505050" stroke-width="1.4" />
<text x="550.6" y="413.2" font-size="10.0" text-anchor="start" fill="#111" font-weight="normal"  stroke="#111" stroke-width="0.25">0.05%</text>
<line x1="531.2" y1="420.88" x2="546.3" y2="420.88" stroke="#e8434a" stroke-width="1.4" />
<text x="550.6" y="423.08" font-size="10.0" text-anchor="start" fill="#111" font-weight="normal"  stroke="#111" stroke-width="0.25">0.1%</text>
<line x1="531.2" y1="430.76" x2="546.3" y2="430.76" stroke="#3a9a3a" stroke-width="1.4" />
<text x="550.6" y="432.96" font-size="10.0" text-anchor="start" fill="#111" font-weight="normal"  stroke="#111" stroke-width="0.25">0.2%</text>
<line x1="531.2" y1="440.64" x2="546.3" y2="440.64" stroke="#f57f17" stroke-width="1.4" />
<text x="550.6" y="442.84" font-size="10.0" text-anchor="start" fill="#111" font-weight="normal"  stroke="#111" stroke-width="0.25">0.4%</text>
<line x1="531.2" y1="450.52" x2="546.3" y2="450.52" stroke="#7b5cb5" stroke-width="1.4" />
<text x="550.6" y="452.72" font-size="10.0" text-anchor="start" fill="#111" font-weight="normal"  stroke="#111" stroke-width="0.25">0.8%</text>
</svg></body></html>
